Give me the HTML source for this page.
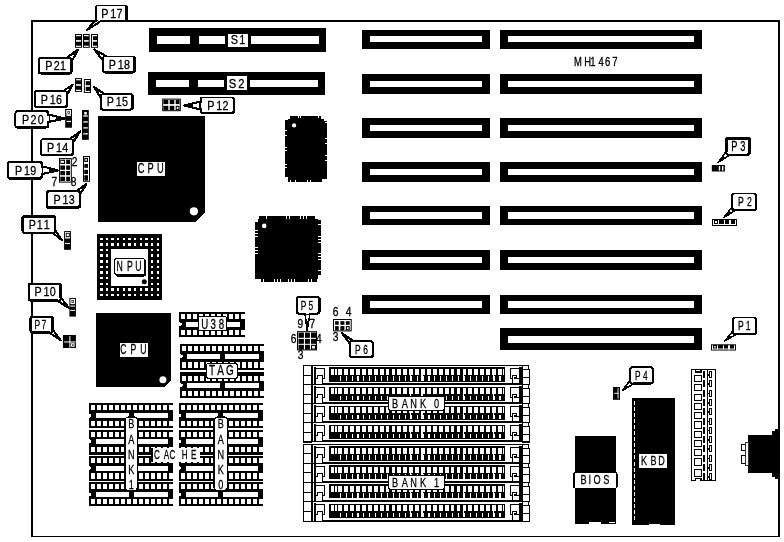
<!DOCTYPE html>
<html><head><meta charset="utf-8"><title>MH1467</title>
<style>
html,body{margin:0;padding:0;background:#fff;}
svg{display:block;will-change:transform;transform:translateZ(0);}
text{font-family:"Liberation Sans",sans-serif;fill:#000;stroke:#000;stroke-width:0.3px;}
</style></head><body>
<svg width="784" height="542" viewBox="0 0 784 542" shape-rendering="crispEdges">
<rect x="0" y="0" width="784" height="542" fill="#fff"/>
<rect x="31" y="20" width="749" height="2" fill="#000" />
<rect x="31" y="20" width="2" height="517" fill="#000" />
<rect x="778" y="20" width="2" height="517" fill="#000" />
<rect x="31" y="536" width="749" height="1" fill="#000" />
<rect x="362" y="29.5" width="128" height="19.5" fill="#000" />
<rect x="369.7" y="36" width="112.3" height="6" fill="#fff" />
<rect x="500" y="29.5" width="202" height="19.5" fill="#000" />
<rect x="507.7" y="36" width="186.3" height="6" fill="#fff" />
<rect x="362" y="74" width="128" height="19.5" fill="#000" />
<rect x="369.7" y="80.5" width="112.3" height="6.5" fill="#fff" />
<rect x="500" y="74" width="202" height="19.5" fill="#000" />
<rect x="507.7" y="80.5" width="186.3" height="6.5" fill="#fff" />
<rect x="362" y="118" width="128" height="20" fill="#000" />
<rect x="369.7" y="124.5" width="112.3" height="6.5" fill="#fff" />
<rect x="500" y="118" width="202" height="20" fill="#000" />
<rect x="507.7" y="124.5" width="186.3" height="6.5" fill="#fff" />
<rect x="362" y="162" width="128" height="19.5" fill="#000" />
<rect x="369.7" y="168.5" width="112.3" height="6.5" fill="#fff" />
<rect x="500" y="162" width="202" height="19.5" fill="#000" />
<rect x="507.7" y="168.5" width="186.3" height="6.5" fill="#fff" />
<rect x="362" y="205.5" width="128" height="19" fill="#000" />
<rect x="369.7" y="212" width="112.3" height="6.5" fill="#fff" />
<rect x="500" y="205.5" width="202" height="19" fill="#000" />
<rect x="507.7" y="212" width="186.3" height="6.5" fill="#fff" />
<rect x="362" y="249.5" width="128" height="20" fill="#000" />
<rect x="369.7" y="256.5" width="112.3" height="6.5" fill="#fff" />
<rect x="500" y="249.5" width="202" height="20" fill="#000" />
<rect x="507.7" y="256.5" width="186.3" height="6.5" fill="#fff" />
<rect x="362" y="295" width="128" height="19" fill="#000" />
<rect x="369.7" y="300.5" width="112.3" height="7" fill="#fff" />
<rect x="500" y="295" width="202" height="19" fill="#000" />
<rect x="507.7" y="300.5" width="186.3" height="7" fill="#fff" />
<rect x="500" y="328" width="202" height="21.5" fill="#000" />
<rect x="507.7" y="336" width="186.3" height="7" fill="#fff" />
<rect x="149" y="28" width="177" height="24" fill="#000" />
<rect x="157" y="36" width="33" height="8" fill="#fff" />
<rect x="198.5" y="36" width="26.5" height="8" fill="#fff" />
<rect x="251" y="36" width="68" height="8" fill="#fff" />
<rect x="228" y="33.5" width="20" height="13" fill="#fff" />
<text transform="translate(234.3,43.9) scale(0.82,1)" text-anchor="middle" font-size="13.3">S</text>
<text transform="translate(242.2,43.9) scale(0.82,1)" text-anchor="middle" font-size="13.3">1</text>
<rect x="148" y="72.3" width="176.7" height="22.3" fill="#000" />
<rect x="155.8" y="80" width="33.6" height="6.8" fill="#fff" />
<rect x="197.8" y="80" width="26.3" height="6.8" fill="#fff" />
<rect x="249.8" y="80" width="68.4" height="6.8" fill="#fff" />
<rect x="226.9" y="76" width="19.8" height="13.9" fill="#fff" />
<text transform="translate(232.6,87.8) scale(0.92,1)" text-anchor="middle" font-size="12.2">S</text>
<text transform="translate(241.3,87.8) scale(0.92,1)" text-anchor="middle" font-size="12.2">2</text>
<text transform="translate(577.85,65.7) scale(0.78,1)" text-anchor="middle" font-size="12.1">M</text>
<text transform="translate(587.6,65.7) scale(0.78,1)" text-anchor="middle" font-size="12.1">H</text>
<text transform="translate(592.9,65.7) scale(0.78,1)" text-anchor="middle" font-size="12.1">1</text>
<text transform="translate(601.2,65.7) scale(0.78,1)" text-anchor="middle" font-size="12.1">4</text>
<text transform="translate(607.5,65.7) scale(0.78,1)" text-anchor="middle" font-size="12.1">6</text>
<text transform="translate(614.8,65.7) scale(0.78,1)" text-anchor="middle" font-size="12.1">7</text>
<polygon points="98,116 205,116 205,212.6 195.7,221.8 98,221.8" fill="#000"/>
<circle cx="193.9" cy="211.3" r="4.1" fill="#fff" shape-rendering="geometricPrecision"/>
<rect x="137" y="162" width="28" height="14" fill="#fff" />
<text transform="translate(141.2,172.8) scale(0.66,1)" text-anchor="middle" font-size="14.1">C</text>
<text transform="translate(150.6,172.8) scale(0.66,1)" text-anchor="middle" font-size="14.1">P</text>
<text transform="translate(160.3,172.8) scale(0.66,1)" text-anchor="middle" font-size="14.1">U</text>
<polygon points="96,313 171,313 171,380.3 164.7,386.8 96,386.8" fill="#000"/>
<circle cx="162.9" cy="379.8" r="3.5" fill="#fff" shape-rendering="geometricPrecision"/>
<rect x="120" y="342.8" width="28" height="14" fill="#fff" />
<text transform="translate(123.4,354) scale(0.62,1)" text-anchor="middle" font-size="14">C</text>
<text transform="translate(133.5,354) scale(0.62,1)" text-anchor="middle" font-size="14">P</text>
<text transform="translate(143.3,354) scale(0.62,1)" text-anchor="middle" font-size="14">U</text>
<rect x="287.6" y="118.6" width="36.8" height="60.8" fill="#000" />
<rect x="290" y="116" width="31" height="2.6" fill="#000" />
<rect x="288" y="179.4" width="34" height="2.6" fill="#000" />
<rect x="285" y="119.5" width="2.6" height="57" fill="#000" />
<rect x="324.4" y="121" width="2.6" height="57.5" fill="#000" />
<rect x="297.8" y="116" width="0.8" height="2.3" fill="#fff" />
<rect x="299.8" y="116" width="0.8" height="2.3" fill="#fff" />
<rect x="301.6" y="116" width="0.8" height="2.3" fill="#fff" />
<rect x="303.5" y="116" width="0.8" height="2.3" fill="#fff" />
<rect x="318.3" y="116" width="0.8" height="2.3" fill="#fff" />
<rect x="290.2" y="179.7" width="0.8" height="2.3" fill="#fff" />
<rect x="292.5" y="179.7" width="0.8" height="2.3" fill="#fff" />
<rect x="295" y="179.7" width="0.8" height="2.3" fill="#fff" />
<rect x="307" y="179.7" width="0.8" height="2.3" fill="#fff" />
<rect x="310" y="179.7" width="0.8" height="2.3" fill="#fff" />
<rect x="312.5" y="179.7" width="0.8" height="2.3" fill="#fff" />
<rect x="285" y="130" width="2.3" height="0.8" fill="#fff" />
<rect x="285" y="132.5" width="2.3" height="0.8" fill="#fff" />
<rect x="285" y="135" width="2.3" height="0.8" fill="#fff" />
<rect x="285" y="146.8" width="2.3" height="0.8" fill="#fff" />
<rect x="285" y="150" width="2.3" height="0.8" fill="#fff" />
<rect x="285" y="164" width="2.3" height="0.8" fill="#fff" />
<rect x="285" y="167" width="2.3" height="0.8" fill="#fff" />
<rect x="285" y="169.5" width="2.3" height="0.8" fill="#fff" />
<rect x="324.7" y="122" width="2.3" height="0.8" fill="#fff" />
<rect x="324.7" y="124.5" width="2.3" height="0.8" fill="#fff" />
<rect x="324.7" y="126.5" width="2.3" height="0.8" fill="#fff" />
<rect x="324.7" y="138" width="2.3" height="0.8" fill="#fff" />
<rect x="324.7" y="140.5" width="2.3" height="0.8" fill="#fff" />
<rect x="324.7" y="143" width="2.3" height="0.8" fill="#fff" />
<rect x="324.7" y="155" width="2.3" height="0.8" fill="#fff" />
<rect x="324.7" y="157.5" width="2.3" height="0.8" fill="#fff" />
<rect x="324.7" y="160" width="2.3" height="0.8" fill="#fff" />
<rect x="324.7" y="175.5" width="2.3" height="0.8" fill="#fff" />
<circle cx="294.1" cy="125.4" r="2.1" fill="#fff" shape-rendering="geometricPrecision"/>
<rect x="258.2" y="219.2" width="59.6" height="59.6" fill="#000" />
<rect x="259" y="216" width="56" height="3.2" fill="#000" />
<rect x="261" y="278.8" width="56" height="3.2" fill="#000" />
<rect x="255" y="222" width="3.2" height="56.5" fill="#000" />
<rect x="317.8" y="220" width="3.2" height="56" fill="#000" />
<rect x="266" y="216" width="0.8" height="2.9" fill="#fff" />
<rect x="268.5" y="216" width="0.8" height="2.9" fill="#fff" />
<rect x="271.5" y="216" width="0.8" height="2.9" fill="#fff" />
<rect x="274.5" y="216" width="0.8" height="2.9" fill="#fff" />
<rect x="286.3" y="216" width="0.8" height="2.9" fill="#fff" />
<rect x="289" y="216" width="0.8" height="2.9" fill="#fff" />
<rect x="300.2" y="216" width="0.8" height="2.9" fill="#fff" />
<rect x="303" y="216" width="0.8" height="2.9" fill="#fff" />
<rect x="306" y="216" width="0.8" height="2.9" fill="#fff" />
<rect x="263.2" y="279.1" width="0.8" height="2.9" fill="#fff" />
<rect x="273.8" y="279.1" width="0.8" height="2.9" fill="#fff" />
<rect x="277" y="279.1" width="0.8" height="2.9" fill="#fff" />
<rect x="280" y="279.1" width="0.8" height="2.9" fill="#fff" />
<rect x="287.8" y="279.1" width="0.8" height="2.9" fill="#fff" />
<rect x="291" y="279.1" width="0.8" height="2.9" fill="#fff" />
<rect x="294" y="279.1" width="0.8" height="2.9" fill="#fff" />
<rect x="304.5" y="279.1" width="0.8" height="2.9" fill="#fff" />
<rect x="308" y="279.1" width="0.8" height="2.9" fill="#fff" />
<rect x="311.2" y="279.1" width="0.8" height="2.9" fill="#fff" />
<rect x="255" y="230" width="2.9" height="0.8" fill="#fff" />
<rect x="255" y="233" width="2.9" height="0.8" fill="#fff" />
<rect x="255" y="236" width="2.9" height="0.8" fill="#fff" />
<rect x="255" y="247" width="2.9" height="0.8" fill="#fff" />
<rect x="255" y="250" width="2.9" height="0.8" fill="#fff" />
<rect x="255" y="253" width="2.9" height="0.8" fill="#fff" />
<rect x="255" y="264.5" width="2.9" height="0.8" fill="#fff" />
<rect x="255" y="267.5" width="2.9" height="0.8" fill="#fff" />
<rect x="255" y="270.5" width="2.9" height="0.8" fill="#fff" />
<rect x="255" y="273.5" width="2.9" height="0.8" fill="#fff" />
<rect x="318.1" y="221.5" width="2.9" height="0.8" fill="#fff" />
<rect x="318.1" y="224" width="2.9" height="0.8" fill="#fff" />
<rect x="318.1" y="236" width="2.9" height="0.8" fill="#fff" />
<rect x="318.1" y="239" width="2.9" height="0.8" fill="#fff" />
<rect x="318.1" y="242" width="2.9" height="0.8" fill="#fff" />
<rect x="318.1" y="253" width="2.9" height="0.8" fill="#fff" />
<rect x="318.1" y="256" width="2.9" height="0.8" fill="#fff" />
<rect x="318.1" y="259" width="2.9" height="0.8" fill="#fff" />
<rect x="318.1" y="270" width="2.9" height="0.8" fill="#fff" />
<rect x="318.1" y="272.5" width="2.9" height="0.8" fill="#fff" />
<rect x="318.1" y="275" width="2.9" height="0.8" fill="#fff" />
<circle cx="264.2" cy="225.9" r="2.3" fill="#fff" shape-rendering="geometricPrecision"/>
<rect x="97" y="234" width="65" height="65.6" fill="#000" />
<rect x="100.1" y="237.5" width="2.4" height="2.4" fill="#fff" />
<rect x="100.1" y="243.15" width="2.4" height="2.4" fill="#fff" />
<rect x="100.1" y="248.8" width="2.4" height="2.4" fill="#fff" />
<rect x="100.1" y="254.45" width="2.4" height="2.4" fill="#fff" />
<rect x="100.1" y="260.1" width="2.4" height="2.4" fill="#fff" />
<rect x="100.1" y="265.75" width="2.4" height="2.4" fill="#fff" />
<rect x="100.1" y="271.4" width="2.4" height="2.4" fill="#fff" />
<rect x="100.1" y="277.05" width="2.4" height="2.4" fill="#fff" />
<rect x="100.1" y="282.7" width="2.4" height="2.4" fill="#fff" />
<rect x="100.1" y="288.35" width="2.4" height="2.4" fill="#fff" />
<rect x="100.1" y="294" width="2.4" height="2.4" fill="#fff" />
<rect x="105.75" y="237.5" width="2.4" height="2.4" fill="#fff" />
<rect x="105.75" y="243.15" width="2.4" height="2.4" fill="#fff" />
<rect x="105.75" y="248.8" width="2.4" height="2.4" fill="#fff" />
<rect x="105.75" y="254.45" width="2.4" height="2.4" fill="#fff" />
<rect x="105.75" y="260.1" width="2.4" height="2.4" fill="#fff" />
<rect x="105.75" y="265.75" width="2.4" height="2.4" fill="#fff" />
<rect x="105.75" y="271.4" width="2.4" height="2.4" fill="#fff" />
<rect x="105.75" y="277.05" width="2.4" height="2.4" fill="#fff" />
<rect x="105.75" y="282.7" width="2.4" height="2.4" fill="#fff" />
<rect x="105.75" y="288.35" width="2.4" height="2.4" fill="#fff" />
<rect x="105.75" y="294" width="2.4" height="2.4" fill="#fff" />
<rect x="111.4" y="237.5" width="2.4" height="2.4" fill="#fff" />
<rect x="111.4" y="243.15" width="2.4" height="2.4" fill="#fff" />
<rect x="111.4" y="248.8" width="2.4" height="2.4" fill="#fff" />
<rect x="111.4" y="254.45" width="2.4" height="2.4" fill="#fff" />
<rect x="111.4" y="260.1" width="2.4" height="2.4" fill="#fff" />
<rect x="111.4" y="265.75" width="2.4" height="2.4" fill="#fff" />
<rect x="111.4" y="271.4" width="2.4" height="2.4" fill="#fff" />
<rect x="111.4" y="277.05" width="2.4" height="2.4" fill="#fff" />
<rect x="111.4" y="282.7" width="2.4" height="2.4" fill="#fff" />
<rect x="111.4" y="288.35" width="2.4" height="2.4" fill="#fff" />
<rect x="111.4" y="294" width="2.4" height="2.4" fill="#fff" />
<rect x="117.05" y="237.5" width="2.4" height="2.4" fill="#fff" />
<rect x="117.05" y="243.15" width="2.4" height="2.4" fill="#fff" />
<rect x="117.05" y="248.8" width="2.4" height="2.4" fill="#fff" />
<rect x="117.05" y="254.45" width="2.4" height="2.4" fill="#fff" />
<rect x="117.05" y="260.1" width="2.4" height="2.4" fill="#fff" />
<rect x="117.05" y="265.75" width="2.4" height="2.4" fill="#fff" />
<rect x="117.05" y="271.4" width="2.4" height="2.4" fill="#fff" />
<rect x="117.05" y="277.05" width="2.4" height="2.4" fill="#fff" />
<rect x="117.05" y="282.7" width="2.4" height="2.4" fill="#fff" />
<rect x="117.05" y="288.35" width="2.4" height="2.4" fill="#fff" />
<rect x="117.05" y="294" width="2.4" height="2.4" fill="#fff" />
<rect x="122.7" y="237.5" width="2.4" height="2.4" fill="#fff" />
<rect x="122.7" y="243.15" width="2.4" height="2.4" fill="#fff" />
<rect x="122.7" y="248.8" width="2.4" height="2.4" fill="#fff" />
<rect x="122.7" y="254.45" width="2.4" height="2.4" fill="#fff" />
<rect x="122.7" y="260.1" width="2.4" height="2.4" fill="#fff" />
<rect x="122.7" y="265.75" width="2.4" height="2.4" fill="#fff" />
<rect x="122.7" y="271.4" width="2.4" height="2.4" fill="#fff" />
<rect x="122.7" y="277.05" width="2.4" height="2.4" fill="#fff" />
<rect x="122.7" y="282.7" width="2.4" height="2.4" fill="#fff" />
<rect x="122.7" y="288.35" width="2.4" height="2.4" fill="#fff" />
<rect x="122.7" y="294" width="2.4" height="2.4" fill="#fff" />
<rect x="128.35" y="237.5" width="2.4" height="2.4" fill="#fff" />
<rect x="128.35" y="243.15" width="2.4" height="2.4" fill="#fff" />
<rect x="128.35" y="248.8" width="2.4" height="2.4" fill="#fff" />
<rect x="128.35" y="254.45" width="2.4" height="2.4" fill="#fff" />
<rect x="128.35" y="260.1" width="2.4" height="2.4" fill="#fff" />
<rect x="128.35" y="265.75" width="2.4" height="2.4" fill="#fff" />
<rect x="128.35" y="271.4" width="2.4" height="2.4" fill="#fff" />
<rect x="128.35" y="277.05" width="2.4" height="2.4" fill="#fff" />
<rect x="128.35" y="282.7" width="2.4" height="2.4" fill="#fff" />
<rect x="128.35" y="288.35" width="2.4" height="2.4" fill="#fff" />
<rect x="128.35" y="294" width="2.4" height="2.4" fill="#fff" />
<rect x="134" y="237.5" width="2.4" height="2.4" fill="#fff" />
<rect x="134" y="243.15" width="2.4" height="2.4" fill="#fff" />
<rect x="134" y="248.8" width="2.4" height="2.4" fill="#fff" />
<rect x="134" y="254.45" width="2.4" height="2.4" fill="#fff" />
<rect x="134" y="260.1" width="2.4" height="2.4" fill="#fff" />
<rect x="134" y="265.75" width="2.4" height="2.4" fill="#fff" />
<rect x="134" y="271.4" width="2.4" height="2.4" fill="#fff" />
<rect x="134" y="277.05" width="2.4" height="2.4" fill="#fff" />
<rect x="134" y="282.7" width="2.4" height="2.4" fill="#fff" />
<rect x="134" y="288.35" width="2.4" height="2.4" fill="#fff" />
<rect x="134" y="294" width="2.4" height="2.4" fill="#fff" />
<rect x="139.65" y="237.5" width="2.4" height="2.4" fill="#fff" />
<rect x="139.65" y="243.15" width="2.4" height="2.4" fill="#fff" />
<rect x="139.65" y="248.8" width="2.4" height="2.4" fill="#fff" />
<rect x="139.65" y="254.45" width="2.4" height="2.4" fill="#fff" />
<rect x="139.65" y="260.1" width="2.4" height="2.4" fill="#fff" />
<rect x="139.65" y="265.75" width="2.4" height="2.4" fill="#fff" />
<rect x="139.65" y="271.4" width="2.4" height="2.4" fill="#fff" />
<rect x="139.65" y="277.05" width="2.4" height="2.4" fill="#fff" />
<rect x="139.65" y="282.7" width="2.4" height="2.4" fill="#fff" />
<rect x="139.65" y="288.35" width="2.4" height="2.4" fill="#fff" />
<rect x="139.65" y="294" width="2.4" height="2.4" fill="#fff" />
<rect x="145.3" y="237.5" width="2.4" height="2.4" fill="#fff" />
<rect x="145.3" y="243.15" width="2.4" height="2.4" fill="#fff" />
<rect x="145.3" y="248.8" width="2.4" height="2.4" fill="#fff" />
<rect x="145.3" y="254.45" width="2.4" height="2.4" fill="#fff" />
<rect x="145.3" y="260.1" width="2.4" height="2.4" fill="#fff" />
<rect x="145.3" y="265.75" width="2.4" height="2.4" fill="#fff" />
<rect x="145.3" y="271.4" width="2.4" height="2.4" fill="#fff" />
<rect x="145.3" y="277.05" width="2.4" height="2.4" fill="#fff" />
<rect x="145.3" y="282.7" width="2.4" height="2.4" fill="#fff" />
<rect x="145.3" y="288.35" width="2.4" height="2.4" fill="#fff" />
<rect x="145.3" y="294" width="2.4" height="2.4" fill="#fff" />
<rect x="150.95" y="237.5" width="2.4" height="2.4" fill="#fff" />
<rect x="150.95" y="243.15" width="2.4" height="2.4" fill="#fff" />
<rect x="150.95" y="248.8" width="2.4" height="2.4" fill="#fff" />
<rect x="150.95" y="254.45" width="2.4" height="2.4" fill="#fff" />
<rect x="150.95" y="260.1" width="2.4" height="2.4" fill="#fff" />
<rect x="150.95" y="265.75" width="2.4" height="2.4" fill="#fff" />
<rect x="150.95" y="271.4" width="2.4" height="2.4" fill="#fff" />
<rect x="150.95" y="277.05" width="2.4" height="2.4" fill="#fff" />
<rect x="150.95" y="282.7" width="2.4" height="2.4" fill="#fff" />
<rect x="150.95" y="288.35" width="2.4" height="2.4" fill="#fff" />
<rect x="150.95" y="294" width="2.4" height="2.4" fill="#fff" />
<rect x="156.6" y="237.5" width="2.4" height="2.4" fill="#fff" />
<rect x="156.6" y="243.15" width="2.4" height="2.4" fill="#fff" />
<rect x="156.6" y="248.8" width="2.4" height="2.4" fill="#fff" />
<rect x="156.6" y="254.45" width="2.4" height="2.4" fill="#fff" />
<rect x="156.6" y="260.1" width="2.4" height="2.4" fill="#fff" />
<rect x="156.6" y="265.75" width="2.4" height="2.4" fill="#fff" />
<rect x="156.6" y="271.4" width="2.4" height="2.4" fill="#fff" />
<rect x="156.6" y="277.05" width="2.4" height="2.4" fill="#fff" />
<rect x="156.6" y="282.7" width="2.4" height="2.4" fill="#fff" />
<rect x="156.6" y="288.35" width="2.4" height="2.4" fill="#fff" />
<rect x="156.6" y="294" width="2.4" height="2.4" fill="#fff" />
<rect x="111" y="249" width="37.3" height="37" fill="#fff" />
<circle cx="144.3" cy="281.7" r="2.5" fill="#000" shape-rendering="geometricPrecision"/>
<rect x="115.2" y="259.5" width="30.8" height="17" fill="#000" rx="2"/>
<rect x="114.7" y="258.5" width="29.8" height="16" rx="2" fill="#fff" stroke="#000" stroke-width="1"/>
<text transform="translate(119.75,270.7) scale(0.62,1)" text-anchor="middle" font-size="14">N</text>
<text transform="translate(129.9,270.7) scale(0.62,1)" text-anchor="middle" font-size="14">P</text>
<text transform="translate(138.4,270.7) scale(0.62,1)" text-anchor="middle" font-size="14">U</text>
<rect x="89" y="403" width="84.2" height="24.6" fill="#000" />
<rect x="91" y="405" width="3.9" height="5" fill="#fff" />
<rect x="91" y="421" width="3.9" height="5" fill="#fff" />
<rect x="97" y="405" width="3.9" height="5" fill="#fff" />
<rect x="97" y="421" width="3.9" height="5" fill="#fff" />
<rect x="103" y="405" width="3.9" height="5" fill="#fff" />
<rect x="103" y="421" width="3.9" height="5" fill="#fff" />
<rect x="109" y="405" width="3.9" height="5" fill="#fff" />
<rect x="109" y="421" width="3.9" height="5" fill="#fff" />
<rect x="115" y="405" width="3.9" height="5" fill="#fff" />
<rect x="115" y="421" width="3.9" height="5" fill="#fff" />
<rect x="121" y="405" width="3.9" height="5" fill="#fff" />
<rect x="121" y="421" width="3.9" height="5" fill="#fff" />
<rect x="127" y="405" width="3.9" height="5" fill="#fff" />
<rect x="127" y="421" width="3.9" height="5" fill="#fff" />
<rect x="133" y="405" width="3.9" height="5" fill="#fff" />
<rect x="133" y="421" width="3.9" height="5" fill="#fff" />
<rect x="139" y="405" width="3.9" height="5" fill="#fff" />
<rect x="139" y="421" width="3.9" height="5" fill="#fff" />
<rect x="145" y="405" width="3.9" height="5" fill="#fff" />
<rect x="145" y="421" width="3.9" height="5" fill="#fff" />
<rect x="151" y="405" width="3.9" height="5" fill="#fff" />
<rect x="151" y="421" width="3.9" height="5" fill="#fff" />
<rect x="157" y="405" width="3.9" height="5" fill="#fff" />
<rect x="157" y="421" width="3.9" height="5" fill="#fff" />
<rect x="163" y="405" width="3.9" height="5" fill="#fff" />
<rect x="163" y="421" width="3.9" height="5" fill="#fff" />
<rect x="169" y="405" width="3.9" height="5" fill="#fff" />
<rect x="169" y="421" width="3.9" height="5" fill="#fff" />
<rect x="96" y="413.3" width="32.6" height="4.7" fill="#fff" />
<rect x="133.6" y="413.3" width="34.6" height="4.7" fill="#fff" />
<polygon points="89,413.45 91.4,414.65 91.4,416.65 89,417.85" fill="#fff"/>
<rect x="178.7" y="403" width="84.4" height="24.6" fill="#000" />
<rect x="180.7" y="405" width="3.9" height="5" fill="#fff" />
<rect x="180.7" y="421" width="3.9" height="5" fill="#fff" />
<rect x="186.7" y="405" width="3.9" height="5" fill="#fff" />
<rect x="186.7" y="421" width="3.9" height="5" fill="#fff" />
<rect x="192.7" y="405" width="3.9" height="5" fill="#fff" />
<rect x="192.7" y="421" width="3.9" height="5" fill="#fff" />
<rect x="198.7" y="405" width="3.9" height="5" fill="#fff" />
<rect x="198.7" y="421" width="3.9" height="5" fill="#fff" />
<rect x="204.7" y="405" width="3.9" height="5" fill="#fff" />
<rect x="204.7" y="421" width="3.9" height="5" fill="#fff" />
<rect x="210.7" y="405" width="3.9" height="5" fill="#fff" />
<rect x="210.7" y="421" width="3.9" height="5" fill="#fff" />
<rect x="216.7" y="405" width="3.9" height="5" fill="#fff" />
<rect x="216.7" y="421" width="3.9" height="5" fill="#fff" />
<rect x="222.7" y="405" width="3.9" height="5" fill="#fff" />
<rect x="222.7" y="421" width="3.9" height="5" fill="#fff" />
<rect x="228.7" y="405" width="3.9" height="5" fill="#fff" />
<rect x="228.7" y="421" width="3.9" height="5" fill="#fff" />
<rect x="234.7" y="405" width="3.9" height="5" fill="#fff" />
<rect x="234.7" y="421" width="3.9" height="5" fill="#fff" />
<rect x="240.7" y="405" width="3.9" height="5" fill="#fff" />
<rect x="240.7" y="421" width="3.9" height="5" fill="#fff" />
<rect x="246.7" y="405" width="3.9" height="5" fill="#fff" />
<rect x="246.7" y="421" width="3.9" height="5" fill="#fff" />
<rect x="252.7" y="405" width="3.9" height="5" fill="#fff" />
<rect x="252.7" y="421" width="3.9" height="5" fill="#fff" />
<rect x="258.7" y="405" width="3.9" height="5" fill="#fff" />
<rect x="258.7" y="421" width="3.9" height="5" fill="#fff" />
<rect x="185.7" y="413.3" width="32.7" height="4.7" fill="#fff" />
<rect x="223.4" y="413.3" width="34.7" height="4.7" fill="#fff" />
<polygon points="178.7,413.45 181.1,414.65 181.1,416.65 178.7,417.85" fill="#fff"/>
<rect x="89" y="429.6" width="84.2" height="25.4" fill="#000" />
<rect x="91" y="431.9" width="3.9" height="5" fill="#fff" />
<rect x="91" y="446.8" width="3.9" height="5" fill="#fff" />
<rect x="97" y="431.9" width="3.9" height="5" fill="#fff" />
<rect x="97" y="446.8" width="3.9" height="5" fill="#fff" />
<rect x="103" y="431.9" width="3.9" height="5" fill="#fff" />
<rect x="103" y="446.8" width="3.9" height="5" fill="#fff" />
<rect x="109" y="431.9" width="3.9" height="5" fill="#fff" />
<rect x="109" y="446.8" width="3.9" height="5" fill="#fff" />
<rect x="115" y="431.9" width="3.9" height="5" fill="#fff" />
<rect x="115" y="446.8" width="3.9" height="5" fill="#fff" />
<rect x="121" y="431.9" width="3.9" height="5" fill="#fff" />
<rect x="121" y="446.8" width="3.9" height="5" fill="#fff" />
<rect x="127" y="431.9" width="3.9" height="5" fill="#fff" />
<rect x="127" y="446.8" width="3.9" height="5" fill="#fff" />
<rect x="133" y="431.9" width="3.9" height="5" fill="#fff" />
<rect x="133" y="446.8" width="3.9" height="5" fill="#fff" />
<rect x="139" y="431.9" width="3.9" height="5" fill="#fff" />
<rect x="139" y="446.8" width="3.9" height="5" fill="#fff" />
<rect x="145" y="431.9" width="3.9" height="5" fill="#fff" />
<rect x="145" y="446.8" width="3.9" height="5" fill="#fff" />
<rect x="151" y="431.9" width="3.9" height="5" fill="#fff" />
<rect x="151" y="446.8" width="3.9" height="5" fill="#fff" />
<rect x="157" y="431.9" width="3.9" height="5" fill="#fff" />
<rect x="157" y="446.8" width="3.9" height="5" fill="#fff" />
<rect x="163" y="431.9" width="3.9" height="5" fill="#fff" />
<rect x="163" y="446.8" width="3.9" height="5" fill="#fff" />
<rect x="169" y="431.9" width="3.9" height="5" fill="#fff" />
<rect x="169" y="446.8" width="3.9" height="5" fill="#fff" />
<rect x="96" y="439" width="32.6" height="4.8" fill="#fff" />
<rect x="133.6" y="439" width="34.6" height="4.8" fill="#fff" />
<polygon points="89,439.2 91.4,440.4 91.4,442.4 89,443.6" fill="#fff"/>
<rect x="178.7" y="429.6" width="84.4" height="25.4" fill="#000" />
<rect x="180.7" y="431.9" width="3.9" height="5" fill="#fff" />
<rect x="180.7" y="446.8" width="3.9" height="5" fill="#fff" />
<rect x="186.7" y="431.9" width="3.9" height="5" fill="#fff" />
<rect x="186.7" y="446.8" width="3.9" height="5" fill="#fff" />
<rect x="192.7" y="431.9" width="3.9" height="5" fill="#fff" />
<rect x="192.7" y="446.8" width="3.9" height="5" fill="#fff" />
<rect x="198.7" y="431.9" width="3.9" height="5" fill="#fff" />
<rect x="198.7" y="446.8" width="3.9" height="5" fill="#fff" />
<rect x="204.7" y="431.9" width="3.9" height="5" fill="#fff" />
<rect x="204.7" y="446.8" width="3.9" height="5" fill="#fff" />
<rect x="210.7" y="431.9" width="3.9" height="5" fill="#fff" />
<rect x="210.7" y="446.8" width="3.9" height="5" fill="#fff" />
<rect x="216.7" y="431.9" width="3.9" height="5" fill="#fff" />
<rect x="216.7" y="446.8" width="3.9" height="5" fill="#fff" />
<rect x="222.7" y="431.9" width="3.9" height="5" fill="#fff" />
<rect x="222.7" y="446.8" width="3.9" height="5" fill="#fff" />
<rect x="228.7" y="431.9" width="3.9" height="5" fill="#fff" />
<rect x="228.7" y="446.8" width="3.9" height="5" fill="#fff" />
<rect x="234.7" y="431.9" width="3.9" height="5" fill="#fff" />
<rect x="234.7" y="446.8" width="3.9" height="5" fill="#fff" />
<rect x="240.7" y="431.9" width="3.9" height="5" fill="#fff" />
<rect x="240.7" y="446.8" width="3.9" height="5" fill="#fff" />
<rect x="246.7" y="431.9" width="3.9" height="5" fill="#fff" />
<rect x="246.7" y="446.8" width="3.9" height="5" fill="#fff" />
<rect x="252.7" y="431.9" width="3.9" height="5" fill="#fff" />
<rect x="252.7" y="446.8" width="3.9" height="5" fill="#fff" />
<rect x="258.7" y="431.9" width="3.9" height="5" fill="#fff" />
<rect x="258.7" y="446.8" width="3.9" height="5" fill="#fff" />
<rect x="185.7" y="439" width="32.7" height="4.8" fill="#fff" />
<rect x="223.4" y="439" width="34.7" height="4.8" fill="#fff" />
<polygon points="178.7,439.2 181.1,440.4 181.1,442.4 178.7,443.6" fill="#fff"/>
<rect x="89" y="456.3" width="84.2" height="24.7" fill="#000" />
<rect x="91" y="457.6" width="3.9" height="5.2" fill="#fff" />
<rect x="91" y="473.1" width="3.9" height="5.4" fill="#fff" />
<rect x="97" y="457.6" width="3.9" height="5.2" fill="#fff" />
<rect x="97" y="473.1" width="3.9" height="5.4" fill="#fff" />
<rect x="103" y="457.6" width="3.9" height="5.2" fill="#fff" />
<rect x="103" y="473.1" width="3.9" height="5.4" fill="#fff" />
<rect x="109" y="457.6" width="3.9" height="5.2" fill="#fff" />
<rect x="109" y="473.1" width="3.9" height="5.4" fill="#fff" />
<rect x="115" y="457.6" width="3.9" height="5.2" fill="#fff" />
<rect x="115" y="473.1" width="3.9" height="5.4" fill="#fff" />
<rect x="121" y="457.6" width="3.9" height="5.2" fill="#fff" />
<rect x="121" y="473.1" width="3.9" height="5.4" fill="#fff" />
<rect x="127" y="457.6" width="3.9" height="5.2" fill="#fff" />
<rect x="127" y="473.1" width="3.9" height="5.4" fill="#fff" />
<rect x="133" y="457.6" width="3.9" height="5.2" fill="#fff" />
<rect x="133" y="473.1" width="3.9" height="5.4" fill="#fff" />
<rect x="139" y="457.6" width="3.9" height="5.2" fill="#fff" />
<rect x="139" y="473.1" width="3.9" height="5.4" fill="#fff" />
<rect x="145" y="457.6" width="3.9" height="5.2" fill="#fff" />
<rect x="145" y="473.1" width="3.9" height="5.4" fill="#fff" />
<rect x="151" y="457.6" width="3.9" height="5.2" fill="#fff" />
<rect x="151" y="473.1" width="3.9" height="5.4" fill="#fff" />
<rect x="157" y="457.6" width="3.9" height="5.2" fill="#fff" />
<rect x="157" y="473.1" width="3.9" height="5.4" fill="#fff" />
<rect x="163" y="457.6" width="3.9" height="5.2" fill="#fff" />
<rect x="163" y="473.1" width="3.9" height="5.4" fill="#fff" />
<rect x="169" y="457.6" width="3.9" height="5.2" fill="#fff" />
<rect x="169" y="473.1" width="3.9" height="5.4" fill="#fff" />
<rect x="96" y="465.5" width="32.6" height="5" fill="#fff" />
<rect x="133.6" y="465.5" width="34.6" height="5" fill="#fff" />
<polygon points="89,465.8 91.4,467 91.4,469 89,470.2" fill="#fff"/>
<rect x="178.7" y="456.3" width="84.4" height="24.7" fill="#000" />
<rect x="180.7" y="457.6" width="3.9" height="5.2" fill="#fff" />
<rect x="180.7" y="473.1" width="3.9" height="5.4" fill="#fff" />
<rect x="186.7" y="457.6" width="3.9" height="5.2" fill="#fff" />
<rect x="186.7" y="473.1" width="3.9" height="5.4" fill="#fff" />
<rect x="192.7" y="457.6" width="3.9" height="5.2" fill="#fff" />
<rect x="192.7" y="473.1" width="3.9" height="5.4" fill="#fff" />
<rect x="198.7" y="457.6" width="3.9" height="5.2" fill="#fff" />
<rect x="198.7" y="473.1" width="3.9" height="5.4" fill="#fff" />
<rect x="204.7" y="457.6" width="3.9" height="5.2" fill="#fff" />
<rect x="204.7" y="473.1" width="3.9" height="5.4" fill="#fff" />
<rect x="210.7" y="457.6" width="3.9" height="5.2" fill="#fff" />
<rect x="210.7" y="473.1" width="3.9" height="5.4" fill="#fff" />
<rect x="216.7" y="457.6" width="3.9" height="5.2" fill="#fff" />
<rect x="216.7" y="473.1" width="3.9" height="5.4" fill="#fff" />
<rect x="222.7" y="457.6" width="3.9" height="5.2" fill="#fff" />
<rect x="222.7" y="473.1" width="3.9" height="5.4" fill="#fff" />
<rect x="228.7" y="457.6" width="3.9" height="5.2" fill="#fff" />
<rect x="228.7" y="473.1" width="3.9" height="5.4" fill="#fff" />
<rect x="234.7" y="457.6" width="3.9" height="5.2" fill="#fff" />
<rect x="234.7" y="473.1" width="3.9" height="5.4" fill="#fff" />
<rect x="240.7" y="457.6" width="3.9" height="5.2" fill="#fff" />
<rect x="240.7" y="473.1" width="3.9" height="5.4" fill="#fff" />
<rect x="246.7" y="457.6" width="3.9" height="5.2" fill="#fff" />
<rect x="246.7" y="473.1" width="3.9" height="5.4" fill="#fff" />
<rect x="252.7" y="457.6" width="3.9" height="5.2" fill="#fff" />
<rect x="252.7" y="473.1" width="3.9" height="5.4" fill="#fff" />
<rect x="258.7" y="457.6" width="3.9" height="5.2" fill="#fff" />
<rect x="258.7" y="473.1" width="3.9" height="5.4" fill="#fff" />
<rect x="185.7" y="465.5" width="32.7" height="5" fill="#fff" />
<rect x="223.4" y="465.5" width="34.7" height="5" fill="#fff" />
<polygon points="178.7,465.8 181.1,467 181.1,469 178.7,470.2" fill="#fff"/>
<rect x="89" y="482" width="84.2" height="23.7" fill="#000" />
<rect x="91" y="483.9" width="3.9" height="5.3" fill="#fff" />
<rect x="91" y="499" width="3.9" height="5" fill="#fff" />
<rect x="97" y="483.9" width="3.9" height="5.3" fill="#fff" />
<rect x="97" y="499" width="3.9" height="5" fill="#fff" />
<rect x="103" y="483.9" width="3.9" height="5.3" fill="#fff" />
<rect x="103" y="499" width="3.9" height="5" fill="#fff" />
<rect x="109" y="483.9" width="3.9" height="5.3" fill="#fff" />
<rect x="109" y="499" width="3.9" height="5" fill="#fff" />
<rect x="115" y="483.9" width="3.9" height="5.3" fill="#fff" />
<rect x="115" y="499" width="3.9" height="5" fill="#fff" />
<rect x="121" y="483.9" width="3.9" height="5.3" fill="#fff" />
<rect x="121" y="499" width="3.9" height="5" fill="#fff" />
<rect x="127" y="483.9" width="3.9" height="5.3" fill="#fff" />
<rect x="127" y="499" width="3.9" height="5" fill="#fff" />
<rect x="133" y="483.9" width="3.9" height="5.3" fill="#fff" />
<rect x="133" y="499" width="3.9" height="5" fill="#fff" />
<rect x="139" y="483.9" width="3.9" height="5.3" fill="#fff" />
<rect x="139" y="499" width="3.9" height="5" fill="#fff" />
<rect x="145" y="483.9" width="3.9" height="5.3" fill="#fff" />
<rect x="145" y="499" width="3.9" height="5" fill="#fff" />
<rect x="151" y="483.9" width="3.9" height="5.3" fill="#fff" />
<rect x="151" y="499" width="3.9" height="5" fill="#fff" />
<rect x="157" y="483.9" width="3.9" height="5.3" fill="#fff" />
<rect x="157" y="499" width="3.9" height="5" fill="#fff" />
<rect x="163" y="483.9" width="3.9" height="5.3" fill="#fff" />
<rect x="163" y="499" width="3.9" height="5" fill="#fff" />
<rect x="169" y="483.9" width="3.9" height="5.3" fill="#fff" />
<rect x="169" y="499" width="3.9" height="5" fill="#fff" />
<rect x="96" y="492.3" width="32.6" height="4.5" fill="#fff" />
<rect x="133.6" y="492.3" width="34.6" height="4.5" fill="#fff" />
<polygon points="89,492.35 91.4,493.55 91.4,495.55 89,496.75" fill="#fff"/>
<rect x="178.7" y="482" width="84.4" height="23.7" fill="#000" />
<rect x="180.7" y="483.9" width="3.9" height="5.3" fill="#fff" />
<rect x="180.7" y="499" width="3.9" height="5" fill="#fff" />
<rect x="186.7" y="483.9" width="3.9" height="5.3" fill="#fff" />
<rect x="186.7" y="499" width="3.9" height="5" fill="#fff" />
<rect x="192.7" y="483.9" width="3.9" height="5.3" fill="#fff" />
<rect x="192.7" y="499" width="3.9" height="5" fill="#fff" />
<rect x="198.7" y="483.9" width="3.9" height="5.3" fill="#fff" />
<rect x="198.7" y="499" width="3.9" height="5" fill="#fff" />
<rect x="204.7" y="483.9" width="3.9" height="5.3" fill="#fff" />
<rect x="204.7" y="499" width="3.9" height="5" fill="#fff" />
<rect x="210.7" y="483.9" width="3.9" height="5.3" fill="#fff" />
<rect x="210.7" y="499" width="3.9" height="5" fill="#fff" />
<rect x="216.7" y="483.9" width="3.9" height="5.3" fill="#fff" />
<rect x="216.7" y="499" width="3.9" height="5" fill="#fff" />
<rect x="222.7" y="483.9" width="3.9" height="5.3" fill="#fff" />
<rect x="222.7" y="499" width="3.9" height="5" fill="#fff" />
<rect x="228.7" y="483.9" width="3.9" height="5.3" fill="#fff" />
<rect x="228.7" y="499" width="3.9" height="5" fill="#fff" />
<rect x="234.7" y="483.9" width="3.9" height="5.3" fill="#fff" />
<rect x="234.7" y="499" width="3.9" height="5" fill="#fff" />
<rect x="240.7" y="483.9" width="3.9" height="5.3" fill="#fff" />
<rect x="240.7" y="499" width="3.9" height="5" fill="#fff" />
<rect x="246.7" y="483.9" width="3.9" height="5.3" fill="#fff" />
<rect x="246.7" y="499" width="3.9" height="5" fill="#fff" />
<rect x="252.7" y="483.9" width="3.9" height="5.3" fill="#fff" />
<rect x="252.7" y="499" width="3.9" height="5" fill="#fff" />
<rect x="258.7" y="483.9" width="3.9" height="5.3" fill="#fff" />
<rect x="258.7" y="499" width="3.9" height="5" fill="#fff" />
<rect x="185.7" y="492.3" width="32.7" height="4.5" fill="#fff" />
<rect x="223.4" y="492.3" width="34.7" height="4.5" fill="#fff" />
<polygon points="178.7,492.35 181.1,493.55 181.1,495.55 178.7,496.75" fill="#fff"/>
<rect x="180.1" y="344.1" width="84.1" height="25.9" fill="#000" />
<rect x="182.1" y="346.1" width="3.9" height="4.9" fill="#fff" />
<rect x="182.1" y="362" width="3.9" height="5.7" fill="#fff" />
<rect x="188.1" y="346.1" width="3.9" height="4.9" fill="#fff" />
<rect x="188.1" y="362" width="3.9" height="5.7" fill="#fff" />
<rect x="194.1" y="346.1" width="3.9" height="4.9" fill="#fff" />
<rect x="194.1" y="362" width="3.9" height="5.7" fill="#fff" />
<rect x="200.1" y="346.1" width="3.9" height="4.9" fill="#fff" />
<rect x="200.1" y="362" width="3.9" height="5.7" fill="#fff" />
<rect x="206.1" y="346.1" width="3.9" height="4.9" fill="#fff" />
<rect x="206.1" y="362" width="3.9" height="5.7" fill="#fff" />
<rect x="212.1" y="346.1" width="3.9" height="4.9" fill="#fff" />
<rect x="212.1" y="362" width="3.9" height="5.7" fill="#fff" />
<rect x="218.1" y="346.1" width="3.9" height="4.9" fill="#fff" />
<rect x="218.1" y="362" width="3.9" height="5.7" fill="#fff" />
<rect x="224.1" y="346.1" width="3.9" height="4.9" fill="#fff" />
<rect x="224.1" y="362" width="3.9" height="5.7" fill="#fff" />
<rect x="230.1" y="346.1" width="3.9" height="4.9" fill="#fff" />
<rect x="230.1" y="362" width="3.9" height="5.7" fill="#fff" />
<rect x="236.1" y="346.1" width="3.9" height="4.9" fill="#fff" />
<rect x="236.1" y="362" width="3.9" height="5.7" fill="#fff" />
<rect x="242.1" y="346.1" width="3.9" height="4.9" fill="#fff" />
<rect x="242.1" y="362" width="3.9" height="5.7" fill="#fff" />
<rect x="248.1" y="346.1" width="3.9" height="4.9" fill="#fff" />
<rect x="248.1" y="362" width="3.9" height="5.7" fill="#fff" />
<rect x="254.1" y="346.1" width="3.9" height="4.9" fill="#fff" />
<rect x="254.1" y="362" width="3.9" height="5.7" fill="#fff" />
<rect x="260.1" y="346.1" width="3.9" height="4.9" fill="#fff" />
<rect x="260.1" y="362" width="3.9" height="5.7" fill="#fff" />
<rect x="187.1" y="354" width="32.55" height="4.8" fill="#fff" />
<rect x="224.65" y="354" width="34.55" height="4.8" fill="#fff" />
<polygon points="180.1,354.2 182.5,355.4 182.5,357.4 180.1,358.6" fill="#fff"/>
<rect x="180.1" y="372.3" width="84.1" height="25.4" fill="#000" />
<rect x="182.1" y="376" width="3.9" height="4.8" fill="#fff" />
<rect x="182.1" y="391.1" width="3.9" height="4.4" fill="#fff" />
<rect x="188.1" y="376" width="3.9" height="4.8" fill="#fff" />
<rect x="188.1" y="391.1" width="3.9" height="4.4" fill="#fff" />
<rect x="194.1" y="376" width="3.9" height="4.8" fill="#fff" />
<rect x="194.1" y="391.1" width="3.9" height="4.4" fill="#fff" />
<rect x="200.1" y="376" width="3.9" height="4.8" fill="#fff" />
<rect x="200.1" y="391.1" width="3.9" height="4.4" fill="#fff" />
<rect x="206.1" y="376" width="3.9" height="4.8" fill="#fff" />
<rect x="206.1" y="391.1" width="3.9" height="4.4" fill="#fff" />
<rect x="212.1" y="376" width="3.9" height="4.8" fill="#fff" />
<rect x="212.1" y="391.1" width="3.9" height="4.4" fill="#fff" />
<rect x="218.1" y="376" width="3.9" height="4.8" fill="#fff" />
<rect x="218.1" y="391.1" width="3.9" height="4.4" fill="#fff" />
<rect x="224.1" y="376" width="3.9" height="4.8" fill="#fff" />
<rect x="224.1" y="391.1" width="3.9" height="4.4" fill="#fff" />
<rect x="230.1" y="376" width="3.9" height="4.8" fill="#fff" />
<rect x="230.1" y="391.1" width="3.9" height="4.4" fill="#fff" />
<rect x="236.1" y="376" width="3.9" height="4.8" fill="#fff" />
<rect x="236.1" y="391.1" width="3.9" height="4.4" fill="#fff" />
<rect x="242.1" y="376" width="3.9" height="4.8" fill="#fff" />
<rect x="242.1" y="391.1" width="3.9" height="4.4" fill="#fff" />
<rect x="248.1" y="376" width="3.9" height="4.8" fill="#fff" />
<rect x="248.1" y="391.1" width="3.9" height="4.4" fill="#fff" />
<rect x="254.1" y="376" width="3.9" height="4.8" fill="#fff" />
<rect x="254.1" y="391.1" width="3.9" height="4.4" fill="#fff" />
<rect x="260.1" y="376" width="3.9" height="4.8" fill="#fff" />
<rect x="260.1" y="391.1" width="3.9" height="4.4" fill="#fff" />
<rect x="187.1" y="383" width="32.55" height="4.8" fill="#fff" />
<rect x="224.65" y="383" width="34.55" height="4.8" fill="#fff" />
<polygon points="180.1,383.2 182.5,384.4 182.5,386.4 180.1,387.6" fill="#fff"/>
<rect x="179.2" y="312.2" width="65.8" height="24.5" fill="#000" />
<rect x="181.2" y="314.1" width="3.9" height="4.9" fill="#fff" />
<rect x="181.2" y="329.8" width="3.9" height="4.9" fill="#fff" />
<rect x="187.2" y="314.1" width="3.9" height="4.9" fill="#fff" />
<rect x="187.2" y="329.8" width="3.9" height="4.9" fill="#fff" />
<rect x="193.2" y="314.1" width="3.9" height="4.9" fill="#fff" />
<rect x="193.2" y="329.8" width="3.9" height="4.9" fill="#fff" />
<rect x="199.2" y="314.1" width="3.9" height="4.9" fill="#fff" />
<rect x="199.2" y="329.8" width="3.9" height="4.9" fill="#fff" />
<rect x="205.2" y="314.1" width="3.9" height="4.9" fill="#fff" />
<rect x="205.2" y="329.8" width="3.9" height="4.9" fill="#fff" />
<rect x="211.2" y="314.1" width="3.9" height="4.9" fill="#fff" />
<rect x="211.2" y="329.8" width="3.9" height="4.9" fill="#fff" />
<rect x="217.2" y="314.1" width="3.9" height="4.9" fill="#fff" />
<rect x="217.2" y="329.8" width="3.9" height="4.9" fill="#fff" />
<rect x="223.2" y="314.1" width="3.9" height="4.9" fill="#fff" />
<rect x="223.2" y="329.8" width="3.9" height="4.9" fill="#fff" />
<rect x="229.2" y="314.1" width="3.9" height="4.9" fill="#fff" />
<rect x="229.2" y="329.8" width="3.9" height="4.9" fill="#fff" />
<rect x="235.2" y="314.1" width="3.9" height="4.9" fill="#fff" />
<rect x="235.2" y="329.8" width="3.9" height="4.9" fill="#fff" />
<rect x="241.2" y="314.1" width="3.9" height="4.9" fill="#fff" />
<rect x="241.2" y="329.8" width="3.9" height="4.9" fill="#fff" />
<rect x="186.2" y="322.2" width="23.4" height="4.5" fill="#fff" />
<rect x="214.6" y="322.2" width="25.4" height="4.5" fill="#fff" />
<polygon points="179.2,322.25 181.6,323.45 181.6,325.45 179.2,326.65" fill="#fff"/>
<rect x="124.75" y="417.05" width="12.9" height="73.7" rx="4" fill="#fff" stroke="#000" stroke-width="1.5"/>
<text transform="translate(131.2,428.4) scale(0.68,1)" text-anchor="middle" font-size="13.4">B</text>
<text transform="translate(131.2,443.7) scale(0.68,1)" text-anchor="middle" font-size="13.4">A</text>
<text transform="translate(131.2,459) scale(0.68,1)" text-anchor="middle" font-size="13.4">N</text>
<text transform="translate(131.2,474.2) scale(0.68,1)" text-anchor="middle" font-size="13.4">K</text>
<text transform="translate(131.2,488.6) scale(0.68,1)" text-anchor="middle" font-size="13.4">1</text>
<rect x="214.05" y="417.05" width="13.5" height="73.7" rx="4" fill="#fff" stroke="#000" stroke-width="1.5"/>
<text transform="translate(220.8,428.4) scale(0.68,1)" text-anchor="middle" font-size="13.4">B</text>
<text transform="translate(220.8,443.7) scale(0.68,1)" text-anchor="middle" font-size="13.4">A</text>
<text transform="translate(220.8,459) scale(0.68,1)" text-anchor="middle" font-size="13.4">N</text>
<text transform="translate(220.8,474.2) scale(0.68,1)" text-anchor="middle" font-size="13.4">K</text>
<text transform="translate(220.8,488.6) scale(0.68,1)" text-anchor="middle" font-size="13.4">0</text>
<rect x="151.3" y="447.5" width="1.7" height="14.8" fill="#000" />
<rect x="152.8" y="447.9" width="46.7" height="14.1" fill="#fff" />
<text transform="translate(156.8,459) scale(0.6,1)" text-anchor="middle" font-size="13.5">C</text>
<text transform="translate(166.4,459) scale(0.6,1)" text-anchor="middle" font-size="13.5">A</text>
<text transform="translate(172.4,459) scale(0.6,1)" text-anchor="middle" font-size="13.5">C</text>
<text transform="translate(184.6,459) scale(0.6,1)" text-anchor="middle" font-size="13.5">H</text>
<text transform="translate(193.7,459) scale(0.6,1)" text-anchor="middle" font-size="13.5">E</text>
<rect x="198.3" y="316.5" width="28.1" height="14.4" rx="1.5" fill="#fff" stroke="#000" stroke-width="1"/>
<text transform="translate(204.75,328.9) scale(0.68,1)" text-anchor="middle" font-size="14.2">U</text>
<text transform="translate(213.1,328.9) scale(0.68,1)" text-anchor="middle" font-size="14.2">3</text>
<text transform="translate(221.4,328.9) scale(0.68,1)" text-anchor="middle" font-size="14.2">8</text>
<rect x="206.7" y="363.3" width="30.5" height="15.2" rx="2" fill="#fff" stroke="#000" stroke-width="1"/>
<text transform="translate(212.15,375) scale(0.7,1)" text-anchor="middle" font-size="14.3">T</text>
<text transform="translate(220.5,375) scale(0.7,1)" text-anchor="middle" font-size="14.3">A</text>
<text transform="translate(229.85,375) scale(0.7,1)" text-anchor="middle" font-size="14.3">G</text>
<rect x="303.5" y="365.5" width="8.2" height="19.3" fill="#fff" stroke="#000" stroke-width="1"/>
<rect x="303" y="374.65" width="9" height="1" fill="#000" />
<rect x="303" y="365" width="219" height="1" fill="#000" />
<rect x="312.3" y="366" width="0.7" height="18.3" fill="#000" />
<rect x="313.8" y="366.5" width="1.8" height="17.8" fill="#000" />
<rect x="315" y="368" width="10" height="1" fill="#000" />
<rect x="324" y="368" width="1" height="11" fill="#000" />
<rect x="317.3" y="375" width="5.7" height="1" fill="#000" />
<rect x="317.3" y="375" width="1" height="4" fill="#000" />
<rect x="315" y="378" width="3.3" height="1" fill="#000" />
<rect x="322" y="375" width="1" height="9.3" fill="#000" />
<rect x="323" y="378" width="2" height="1" fill="#000" />
<rect x="322" y="383" width="200" height="1.4" fill="#000" />
<rect x="329.3" y="367.4" width="175.5" height="14.2" fill="#000" />
<rect x="331.2" y="369" width="2.3" height="5.8" fill="#fff" />
<rect x="335" y="369" width="2.4" height="5.8" fill="#fff" />
<rect x="338.3" y="369" width="3.8" height="5.8" fill="#fff" />
<rect x="339.7" y="376.3" width="1.1" height="4.5" fill="#fff" />
<rect x="344.215" y="369" width="3.8" height="5.8" fill="#fff" />
<rect x="345.615" y="376.3" width="1.1" height="4.5" fill="#fff" />
<rect x="350.13" y="369" width="3.8" height="5.8" fill="#fff" />
<rect x="351.53" y="376.3" width="1.1" height="4.5" fill="#fff" />
<rect x="356.045" y="369" width="3.8" height="5.8" fill="#fff" />
<rect x="357.445" y="376.3" width="1.1" height="4.5" fill="#fff" />
<rect x="361.96" y="369" width="3.8" height="5.8" fill="#fff" />
<rect x="363.36" y="376.3" width="1.1" height="4.5" fill="#fff" />
<rect x="367.875" y="369" width="3.8" height="5.8" fill="#fff" />
<rect x="369.275" y="376.3" width="1.1" height="4.5" fill="#fff" />
<rect x="373.79" y="369" width="3.8" height="5.8" fill="#fff" />
<rect x="375.19" y="376.3" width="1.1" height="4.5" fill="#fff" />
<rect x="379.705" y="369" width="3.8" height="5.8" fill="#fff" />
<rect x="381.105" y="376.3" width="1.1" height="4.5" fill="#fff" />
<rect x="385.62" y="369" width="3.8" height="5.8" fill="#fff" />
<rect x="387.02" y="376.3" width="1.1" height="4.5" fill="#fff" />
<rect x="391.535" y="369" width="3.8" height="5.8" fill="#fff" />
<rect x="392.935" y="376.3" width="1.1" height="4.5" fill="#fff" />
<rect x="397.45" y="369" width="3.8" height="5.8" fill="#fff" />
<rect x="398.85" y="376.3" width="1.1" height="4.5" fill="#fff" />
<rect x="403.365" y="369" width="3.8" height="5.8" fill="#fff" />
<rect x="404.765" y="376.3" width="1.1" height="4.5" fill="#fff" />
<rect x="409.28" y="369" width="3.8" height="5.8" fill="#fff" />
<rect x="410.68" y="376.3" width="1.1" height="4.5" fill="#fff" />
<rect x="415.195" y="369" width="3.8" height="5.8" fill="#fff" />
<rect x="416.595" y="376.3" width="1.1" height="4.5" fill="#fff" />
<rect x="421.11" y="369" width="3.8" height="5.8" fill="#fff" />
<rect x="422.51" y="376.3" width="1.1" height="4.5" fill="#fff" />
<rect x="427.025" y="369" width="3.8" height="5.8" fill="#fff" />
<rect x="428.425" y="376.3" width="1.1" height="4.5" fill="#fff" />
<rect x="432.94" y="369" width="3.8" height="5.8" fill="#fff" />
<rect x="434.34" y="376.3" width="1.1" height="4.5" fill="#fff" />
<rect x="438.855" y="369" width="3.8" height="5.8" fill="#fff" />
<rect x="440.255" y="376.3" width="1.1" height="4.5" fill="#fff" />
<rect x="444.77" y="369" width="3.8" height="5.8" fill="#fff" />
<rect x="446.17" y="376.3" width="1.1" height="4.5" fill="#fff" />
<rect x="450.685" y="369" width="3.8" height="5.8" fill="#fff" />
<rect x="452.085" y="376.3" width="1.1" height="4.5" fill="#fff" />
<rect x="456.6" y="369" width="3.8" height="5.8" fill="#fff" />
<rect x="458" y="376.3" width="1.1" height="4.5" fill="#fff" />
<rect x="462.515" y="369" width="3.8" height="5.8" fill="#fff" />
<rect x="463.915" y="376.3" width="1.1" height="4.5" fill="#fff" />
<rect x="468.43" y="369" width="3.8" height="5.8" fill="#fff" />
<rect x="469.83" y="376.3" width="1.1" height="4.5" fill="#fff" />
<rect x="474.345" y="369" width="3.8" height="5.8" fill="#fff" />
<rect x="475.745" y="376.3" width="1.1" height="4.5" fill="#fff" />
<rect x="480.26" y="369" width="3.8" height="5.8" fill="#fff" />
<rect x="481.66" y="376.3" width="1.1" height="4.5" fill="#fff" />
<rect x="486.175" y="369" width="3.8" height="5.8" fill="#fff" />
<rect x="487.575" y="376.3" width="1.1" height="4.5" fill="#fff" />
<rect x="492.09" y="369" width="3.8" height="5.8" fill="#fff" />
<rect x="493.49" y="376.3" width="1.1" height="4.5" fill="#fff" />
<rect x="498.005" y="369" width="3.8" height="5.8" fill="#fff" />
<rect x="499.405" y="376.3" width="1.1" height="4.5" fill="#fff" />
<rect x="502.8" y="369" width="1.2" height="6" fill="#fff" />
<rect x="409.6" y="374" width="1.2" height="6.8" fill="#fff" />
<rect x="421.4" y="374" width="1.2" height="6.8" fill="#fff" />
<rect x="462.8" y="374" width="1.2" height="6.8" fill="#fff" />
<rect x="492.7" y="374" width="1.2" height="6.8" fill="#fff" />
<rect x="509.5" y="368" width="9.5" height="1" fill="#000" />
<rect x="509.5" y="368" width="1" height="11" fill="#000" />
<rect x="511.7" y="375" width="5.6" height="1" fill="#000" />
<rect x="516.3" y="375" width="1" height="4" fill="#000" />
<rect x="516.3" y="378" width="2.7" height="1" fill="#000" />
<rect x="511.7" y="375" width="1" height="9.3" fill="#000" />
<rect x="509.5" y="378" width="2.2" height="1" fill="#000" />
<rect x="513.5" y="377" width="2.8" height="2" fill="#000" />
<rect x="519" y="366.5" width="3.2" height="17.8" fill="#000" />
<rect x="522.5" y="365.5" width="5.5" height="4" fill="#fff" stroke="#000" stroke-width="1"/>
<rect x="522.5" y="369.5" width="7" height="7.65" fill="#fff" stroke="#000" stroke-width="1"/>
<rect x="522.5" y="377.15" width="7" height="7.65" fill="#fff" stroke="#000" stroke-width="1"/>
<rect x="303.5" y="384.8" width="8.2" height="19" fill="#fff" stroke="#000" stroke-width="1"/>
<rect x="303" y="393.8" width="9" height="1" fill="#000" />
<rect x="303" y="384.3" width="219" height="1" fill="#000" />
<rect x="312.3" y="385.3" width="0.7" height="18" fill="#000" />
<rect x="313.8" y="385.8" width="1.8" height="17.5" fill="#000" />
<rect x="315" y="387.3" width="10" height="1" fill="#000" />
<rect x="324" y="387.3" width="1" height="11" fill="#000" />
<rect x="317.3" y="394.3" width="5.7" height="1" fill="#000" />
<rect x="317.3" y="394.3" width="1" height="4" fill="#000" />
<rect x="315" y="397.3" width="3.3" height="1" fill="#000" />
<rect x="322" y="394.3" width="1" height="9" fill="#000" />
<rect x="323" y="397.3" width="2" height="1" fill="#000" />
<rect x="322" y="402" width="200" height="1.4" fill="#000" />
<rect x="329.3" y="386.7" width="175.5" height="14.2" fill="#000" />
<rect x="331.2" y="388.3" width="2.3" height="5.8" fill="#fff" />
<rect x="335" y="388.3" width="2.4" height="5.8" fill="#fff" />
<rect x="338.3" y="388.3" width="3.8" height="5.8" fill="#fff" />
<rect x="339.7" y="395.6" width="1.1" height="4.5" fill="#fff" />
<rect x="344.215" y="388.3" width="3.8" height="5.8" fill="#fff" />
<rect x="345.615" y="395.6" width="1.1" height="4.5" fill="#fff" />
<rect x="350.13" y="388.3" width="3.8" height="5.8" fill="#fff" />
<rect x="351.53" y="395.6" width="1.1" height="4.5" fill="#fff" />
<rect x="356.045" y="388.3" width="3.8" height="5.8" fill="#fff" />
<rect x="357.445" y="395.6" width="1.1" height="4.5" fill="#fff" />
<rect x="361.96" y="388.3" width="3.8" height="5.8" fill="#fff" />
<rect x="363.36" y="395.6" width="1.1" height="4.5" fill="#fff" />
<rect x="367.875" y="388.3" width="3.8" height="5.8" fill="#fff" />
<rect x="369.275" y="395.6" width="1.1" height="4.5" fill="#fff" />
<rect x="373.79" y="388.3" width="3.8" height="5.8" fill="#fff" />
<rect x="375.19" y="395.6" width="1.1" height="4.5" fill="#fff" />
<rect x="379.705" y="388.3" width="3.8" height="5.8" fill="#fff" />
<rect x="381.105" y="395.6" width="1.1" height="4.5" fill="#fff" />
<rect x="385.62" y="388.3" width="3.8" height="5.8" fill="#fff" />
<rect x="387.02" y="395.6" width="1.1" height="4.5" fill="#fff" />
<rect x="391.535" y="388.3" width="3.8" height="5.8" fill="#fff" />
<rect x="392.935" y="395.6" width="1.1" height="4.5" fill="#fff" />
<rect x="397.45" y="388.3" width="3.8" height="5.8" fill="#fff" />
<rect x="398.85" y="395.6" width="1.1" height="4.5" fill="#fff" />
<rect x="403.365" y="388.3" width="3.8" height="5.8" fill="#fff" />
<rect x="404.765" y="395.6" width="1.1" height="4.5" fill="#fff" />
<rect x="409.28" y="388.3" width="3.8" height="5.8" fill="#fff" />
<rect x="410.68" y="395.6" width="1.1" height="4.5" fill="#fff" />
<rect x="415.195" y="388.3" width="3.8" height="5.8" fill="#fff" />
<rect x="416.595" y="395.6" width="1.1" height="4.5" fill="#fff" />
<rect x="421.11" y="388.3" width="3.8" height="5.8" fill="#fff" />
<rect x="422.51" y="395.6" width="1.1" height="4.5" fill="#fff" />
<rect x="427.025" y="388.3" width="3.8" height="5.8" fill="#fff" />
<rect x="428.425" y="395.6" width="1.1" height="4.5" fill="#fff" />
<rect x="432.94" y="388.3" width="3.8" height="5.8" fill="#fff" />
<rect x="434.34" y="395.6" width="1.1" height="4.5" fill="#fff" />
<rect x="438.855" y="388.3" width="3.8" height="5.8" fill="#fff" />
<rect x="440.255" y="395.6" width="1.1" height="4.5" fill="#fff" />
<rect x="444.77" y="388.3" width="3.8" height="5.8" fill="#fff" />
<rect x="446.17" y="395.6" width="1.1" height="4.5" fill="#fff" />
<rect x="450.685" y="388.3" width="3.8" height="5.8" fill="#fff" />
<rect x="452.085" y="395.6" width="1.1" height="4.5" fill="#fff" />
<rect x="456.6" y="388.3" width="3.8" height="5.8" fill="#fff" />
<rect x="458" y="395.6" width="1.1" height="4.5" fill="#fff" />
<rect x="462.515" y="388.3" width="3.8" height="5.8" fill="#fff" />
<rect x="463.915" y="395.6" width="1.1" height="4.5" fill="#fff" />
<rect x="468.43" y="388.3" width="3.8" height="5.8" fill="#fff" />
<rect x="469.83" y="395.6" width="1.1" height="4.5" fill="#fff" />
<rect x="474.345" y="388.3" width="3.8" height="5.8" fill="#fff" />
<rect x="475.745" y="395.6" width="1.1" height="4.5" fill="#fff" />
<rect x="480.26" y="388.3" width="3.8" height="5.8" fill="#fff" />
<rect x="481.66" y="395.6" width="1.1" height="4.5" fill="#fff" />
<rect x="486.175" y="388.3" width="3.8" height="5.8" fill="#fff" />
<rect x="487.575" y="395.6" width="1.1" height="4.5" fill="#fff" />
<rect x="492.09" y="388.3" width="3.8" height="5.8" fill="#fff" />
<rect x="493.49" y="395.6" width="1.1" height="4.5" fill="#fff" />
<rect x="498.005" y="388.3" width="3.8" height="5.8" fill="#fff" />
<rect x="499.405" y="395.6" width="1.1" height="4.5" fill="#fff" />
<rect x="502.8" y="388.3" width="1.2" height="6" fill="#fff" />
<rect x="409.6" y="393.3" width="1.2" height="6.8" fill="#fff" />
<rect x="421.4" y="393.3" width="1.2" height="6.8" fill="#fff" />
<rect x="462.8" y="393.3" width="1.2" height="6.8" fill="#fff" />
<rect x="492.7" y="393.3" width="1.2" height="6.8" fill="#fff" />
<rect x="509.5" y="387.3" width="9.5" height="1" fill="#000" />
<rect x="509.5" y="387.3" width="1" height="11" fill="#000" />
<rect x="511.7" y="394.3" width="5.6" height="1" fill="#000" />
<rect x="516.3" y="394.3" width="1" height="4" fill="#000" />
<rect x="516.3" y="397.3" width="2.7" height="1" fill="#000" />
<rect x="511.7" y="394.3" width="1" height="9" fill="#000" />
<rect x="509.5" y="397.3" width="2.2" height="1" fill="#000" />
<rect x="513.5" y="396.3" width="2.8" height="2" fill="#000" />
<rect x="519" y="385.8" width="3.2" height="17.5" fill="#000" />
<rect x="522.5" y="384.8" width="5.5" height="4" fill="#fff" stroke="#000" stroke-width="1"/>
<rect x="522.5" y="388.8" width="7" height="7.5" fill="#fff" stroke="#000" stroke-width="1"/>
<rect x="522.5" y="396.3" width="7" height="7.5" fill="#fff" stroke="#000" stroke-width="1"/>
<rect x="303.5" y="403.8" width="8.2" height="19" fill="#fff" stroke="#000" stroke-width="1"/>
<rect x="303" y="412.8" width="9" height="1" fill="#000" />
<rect x="303" y="403.3" width="219" height="1" fill="#000" />
<rect x="312.3" y="404.3" width="0.7" height="18" fill="#000" />
<rect x="313.8" y="404.8" width="1.8" height="17.5" fill="#000" />
<rect x="315" y="406.3" width="10" height="1" fill="#000" />
<rect x="324" y="406.3" width="1" height="11" fill="#000" />
<rect x="317.3" y="413.3" width="5.7" height="1" fill="#000" />
<rect x="317.3" y="413.3" width="1" height="4" fill="#000" />
<rect x="315" y="416.3" width="3.3" height="1" fill="#000" />
<rect x="322" y="413.3" width="1" height="9" fill="#000" />
<rect x="323" y="416.3" width="2" height="1" fill="#000" />
<rect x="322" y="421" width="200" height="1.4" fill="#000" />
<rect x="329.3" y="405.7" width="175.5" height="14.2" fill="#000" />
<rect x="331.2" y="407.3" width="2.3" height="5.8" fill="#fff" />
<rect x="335" y="407.3" width="2.4" height="5.8" fill="#fff" />
<rect x="338.3" y="407.3" width="3.8" height="5.8" fill="#fff" />
<rect x="339.7" y="414.6" width="1.1" height="4.5" fill="#fff" />
<rect x="344.215" y="407.3" width="3.8" height="5.8" fill="#fff" />
<rect x="345.615" y="414.6" width="1.1" height="4.5" fill="#fff" />
<rect x="350.13" y="407.3" width="3.8" height="5.8" fill="#fff" />
<rect x="351.53" y="414.6" width="1.1" height="4.5" fill="#fff" />
<rect x="356.045" y="407.3" width="3.8" height="5.8" fill="#fff" />
<rect x="357.445" y="414.6" width="1.1" height="4.5" fill="#fff" />
<rect x="361.96" y="407.3" width="3.8" height="5.8" fill="#fff" />
<rect x="363.36" y="414.6" width="1.1" height="4.5" fill="#fff" />
<rect x="367.875" y="407.3" width="3.8" height="5.8" fill="#fff" />
<rect x="369.275" y="414.6" width="1.1" height="4.5" fill="#fff" />
<rect x="373.79" y="407.3" width="3.8" height="5.8" fill="#fff" />
<rect x="375.19" y="414.6" width="1.1" height="4.5" fill="#fff" />
<rect x="379.705" y="407.3" width="3.8" height="5.8" fill="#fff" />
<rect x="381.105" y="414.6" width="1.1" height="4.5" fill="#fff" />
<rect x="385.62" y="407.3" width="3.8" height="5.8" fill="#fff" />
<rect x="387.02" y="414.6" width="1.1" height="4.5" fill="#fff" />
<rect x="391.535" y="407.3" width="3.8" height="5.8" fill="#fff" />
<rect x="392.935" y="414.6" width="1.1" height="4.5" fill="#fff" />
<rect x="397.45" y="407.3" width="3.8" height="5.8" fill="#fff" />
<rect x="398.85" y="414.6" width="1.1" height="4.5" fill="#fff" />
<rect x="403.365" y="407.3" width="3.8" height="5.8" fill="#fff" />
<rect x="404.765" y="414.6" width="1.1" height="4.5" fill="#fff" />
<rect x="409.28" y="407.3" width="3.8" height="5.8" fill="#fff" />
<rect x="410.68" y="414.6" width="1.1" height="4.5" fill="#fff" />
<rect x="415.195" y="407.3" width="3.8" height="5.8" fill="#fff" />
<rect x="416.595" y="414.6" width="1.1" height="4.5" fill="#fff" />
<rect x="421.11" y="407.3" width="3.8" height="5.8" fill="#fff" />
<rect x="422.51" y="414.6" width="1.1" height="4.5" fill="#fff" />
<rect x="427.025" y="407.3" width="3.8" height="5.8" fill="#fff" />
<rect x="428.425" y="414.6" width="1.1" height="4.5" fill="#fff" />
<rect x="432.94" y="407.3" width="3.8" height="5.8" fill="#fff" />
<rect x="434.34" y="414.6" width="1.1" height="4.5" fill="#fff" />
<rect x="438.855" y="407.3" width="3.8" height="5.8" fill="#fff" />
<rect x="440.255" y="414.6" width="1.1" height="4.5" fill="#fff" />
<rect x="444.77" y="407.3" width="3.8" height="5.8" fill="#fff" />
<rect x="446.17" y="414.6" width="1.1" height="4.5" fill="#fff" />
<rect x="450.685" y="407.3" width="3.8" height="5.8" fill="#fff" />
<rect x="452.085" y="414.6" width="1.1" height="4.5" fill="#fff" />
<rect x="456.6" y="407.3" width="3.8" height="5.8" fill="#fff" />
<rect x="458" y="414.6" width="1.1" height="4.5" fill="#fff" />
<rect x="462.515" y="407.3" width="3.8" height="5.8" fill="#fff" />
<rect x="463.915" y="414.6" width="1.1" height="4.5" fill="#fff" />
<rect x="468.43" y="407.3" width="3.8" height="5.8" fill="#fff" />
<rect x="469.83" y="414.6" width="1.1" height="4.5" fill="#fff" />
<rect x="474.345" y="407.3" width="3.8" height="5.8" fill="#fff" />
<rect x="475.745" y="414.6" width="1.1" height="4.5" fill="#fff" />
<rect x="480.26" y="407.3" width="3.8" height="5.8" fill="#fff" />
<rect x="481.66" y="414.6" width="1.1" height="4.5" fill="#fff" />
<rect x="486.175" y="407.3" width="3.8" height="5.8" fill="#fff" />
<rect x="487.575" y="414.6" width="1.1" height="4.5" fill="#fff" />
<rect x="492.09" y="407.3" width="3.8" height="5.8" fill="#fff" />
<rect x="493.49" y="414.6" width="1.1" height="4.5" fill="#fff" />
<rect x="498.005" y="407.3" width="3.8" height="5.8" fill="#fff" />
<rect x="499.405" y="414.6" width="1.1" height="4.5" fill="#fff" />
<rect x="502.8" y="407.3" width="1.2" height="6" fill="#fff" />
<rect x="409.6" y="412.3" width="1.2" height="6.8" fill="#fff" />
<rect x="421.4" y="412.3" width="1.2" height="6.8" fill="#fff" />
<rect x="462.8" y="412.3" width="1.2" height="6.8" fill="#fff" />
<rect x="492.7" y="412.3" width="1.2" height="6.8" fill="#fff" />
<rect x="509.5" y="406.3" width="9.5" height="1" fill="#000" />
<rect x="509.5" y="406.3" width="1" height="11" fill="#000" />
<rect x="511.7" y="413.3" width="5.6" height="1" fill="#000" />
<rect x="516.3" y="413.3" width="1" height="4" fill="#000" />
<rect x="516.3" y="416.3" width="2.7" height="1" fill="#000" />
<rect x="511.7" y="413.3" width="1" height="9" fill="#000" />
<rect x="509.5" y="416.3" width="2.2" height="1" fill="#000" />
<rect x="513.5" y="415.3" width="2.8" height="2" fill="#000" />
<rect x="519" y="404.8" width="3.2" height="17.5" fill="#000" />
<rect x="522.5" y="403.8" width="5.5" height="4" fill="#fff" stroke="#000" stroke-width="1"/>
<rect x="522.5" y="407.8" width="7" height="7.5" fill="#fff" stroke="#000" stroke-width="1"/>
<rect x="522.5" y="415.3" width="7" height="7.5" fill="#fff" stroke="#000" stroke-width="1"/>
<rect x="303.5" y="422.8" width="8.2" height="19.2" fill="#fff" stroke="#000" stroke-width="1"/>
<rect x="303" y="431.9" width="9" height="1" fill="#000" />
<rect x="303" y="422.3" width="219" height="1" fill="#000" />
<rect x="312.3" y="423.3" width="0.7" height="18.2" fill="#000" />
<rect x="313.8" y="423.8" width="1.8" height="17.7" fill="#000" />
<rect x="315" y="425.3" width="10" height="1" fill="#000" />
<rect x="324" y="425.3" width="1" height="11" fill="#000" />
<rect x="317.3" y="432.3" width="5.7" height="1" fill="#000" />
<rect x="317.3" y="432.3" width="1" height="4" fill="#000" />
<rect x="315" y="435.3" width="3.3" height="1" fill="#000" />
<rect x="322" y="432.3" width="1" height="9.2" fill="#000" />
<rect x="323" y="435.3" width="2" height="1" fill="#000" />
<rect x="322" y="440.2" width="200" height="1.4" fill="#000" />
<rect x="329.3" y="424.7" width="175.5" height="14.2" fill="#000" />
<rect x="331.2" y="426.3" width="2.3" height="5.8" fill="#fff" />
<rect x="335" y="426.3" width="2.4" height="5.8" fill="#fff" />
<rect x="338.3" y="426.3" width="3.8" height="5.8" fill="#fff" />
<rect x="339.7" y="433.6" width="1.1" height="4.5" fill="#fff" />
<rect x="344.215" y="426.3" width="3.8" height="5.8" fill="#fff" />
<rect x="345.615" y="433.6" width="1.1" height="4.5" fill="#fff" />
<rect x="350.13" y="426.3" width="3.8" height="5.8" fill="#fff" />
<rect x="351.53" y="433.6" width="1.1" height="4.5" fill="#fff" />
<rect x="356.045" y="426.3" width="3.8" height="5.8" fill="#fff" />
<rect x="357.445" y="433.6" width="1.1" height="4.5" fill="#fff" />
<rect x="361.96" y="426.3" width="3.8" height="5.8" fill="#fff" />
<rect x="363.36" y="433.6" width="1.1" height="4.5" fill="#fff" />
<rect x="367.875" y="426.3" width="3.8" height="5.8" fill="#fff" />
<rect x="369.275" y="433.6" width="1.1" height="4.5" fill="#fff" />
<rect x="373.79" y="426.3" width="3.8" height="5.8" fill="#fff" />
<rect x="375.19" y="433.6" width="1.1" height="4.5" fill="#fff" />
<rect x="379.705" y="426.3" width="3.8" height="5.8" fill="#fff" />
<rect x="381.105" y="433.6" width="1.1" height="4.5" fill="#fff" />
<rect x="385.62" y="426.3" width="3.8" height="5.8" fill="#fff" />
<rect x="387.02" y="433.6" width="1.1" height="4.5" fill="#fff" />
<rect x="391.535" y="426.3" width="3.8" height="5.8" fill="#fff" />
<rect x="392.935" y="433.6" width="1.1" height="4.5" fill="#fff" />
<rect x="397.45" y="426.3" width="3.8" height="5.8" fill="#fff" />
<rect x="398.85" y="433.6" width="1.1" height="4.5" fill="#fff" />
<rect x="403.365" y="426.3" width="3.8" height="5.8" fill="#fff" />
<rect x="404.765" y="433.6" width="1.1" height="4.5" fill="#fff" />
<rect x="409.28" y="426.3" width="3.8" height="5.8" fill="#fff" />
<rect x="410.68" y="433.6" width="1.1" height="4.5" fill="#fff" />
<rect x="415.195" y="426.3" width="3.8" height="5.8" fill="#fff" />
<rect x="416.595" y="433.6" width="1.1" height="4.5" fill="#fff" />
<rect x="421.11" y="426.3" width="3.8" height="5.8" fill="#fff" />
<rect x="422.51" y="433.6" width="1.1" height="4.5" fill="#fff" />
<rect x="427.025" y="426.3" width="3.8" height="5.8" fill="#fff" />
<rect x="428.425" y="433.6" width="1.1" height="4.5" fill="#fff" />
<rect x="432.94" y="426.3" width="3.8" height="5.8" fill="#fff" />
<rect x="434.34" y="433.6" width="1.1" height="4.5" fill="#fff" />
<rect x="438.855" y="426.3" width="3.8" height="5.8" fill="#fff" />
<rect x="440.255" y="433.6" width="1.1" height="4.5" fill="#fff" />
<rect x="444.77" y="426.3" width="3.8" height="5.8" fill="#fff" />
<rect x="446.17" y="433.6" width="1.1" height="4.5" fill="#fff" />
<rect x="450.685" y="426.3" width="3.8" height="5.8" fill="#fff" />
<rect x="452.085" y="433.6" width="1.1" height="4.5" fill="#fff" />
<rect x="456.6" y="426.3" width="3.8" height="5.8" fill="#fff" />
<rect x="458" y="433.6" width="1.1" height="4.5" fill="#fff" />
<rect x="462.515" y="426.3" width="3.8" height="5.8" fill="#fff" />
<rect x="463.915" y="433.6" width="1.1" height="4.5" fill="#fff" />
<rect x="468.43" y="426.3" width="3.8" height="5.8" fill="#fff" />
<rect x="469.83" y="433.6" width="1.1" height="4.5" fill="#fff" />
<rect x="474.345" y="426.3" width="3.8" height="5.8" fill="#fff" />
<rect x="475.745" y="433.6" width="1.1" height="4.5" fill="#fff" />
<rect x="480.26" y="426.3" width="3.8" height="5.8" fill="#fff" />
<rect x="481.66" y="433.6" width="1.1" height="4.5" fill="#fff" />
<rect x="486.175" y="426.3" width="3.8" height="5.8" fill="#fff" />
<rect x="487.575" y="433.6" width="1.1" height="4.5" fill="#fff" />
<rect x="492.09" y="426.3" width="3.8" height="5.8" fill="#fff" />
<rect x="493.49" y="433.6" width="1.1" height="4.5" fill="#fff" />
<rect x="498.005" y="426.3" width="3.8" height="5.8" fill="#fff" />
<rect x="499.405" y="433.6" width="1.1" height="4.5" fill="#fff" />
<rect x="502.8" y="426.3" width="1.2" height="6" fill="#fff" />
<rect x="409.6" y="431.3" width="1.2" height="6.8" fill="#fff" />
<rect x="421.4" y="431.3" width="1.2" height="6.8" fill="#fff" />
<rect x="462.8" y="431.3" width="1.2" height="6.8" fill="#fff" />
<rect x="492.7" y="431.3" width="1.2" height="6.8" fill="#fff" />
<rect x="509.5" y="425.3" width="9.5" height="1" fill="#000" />
<rect x="509.5" y="425.3" width="1" height="11" fill="#000" />
<rect x="511.7" y="432.3" width="5.6" height="1" fill="#000" />
<rect x="516.3" y="432.3" width="1" height="4" fill="#000" />
<rect x="516.3" y="435.3" width="2.7" height="1" fill="#000" />
<rect x="511.7" y="432.3" width="1" height="9.2" fill="#000" />
<rect x="509.5" y="435.3" width="2.2" height="1" fill="#000" />
<rect x="513.5" y="434.3" width="2.8" height="2" fill="#000" />
<rect x="519" y="423.8" width="3.2" height="17.7" fill="#000" />
<rect x="522.5" y="422.8" width="5.5" height="4" fill="#fff" stroke="#000" stroke-width="1"/>
<rect x="522.5" y="426.8" width="7" height="7.6" fill="#fff" stroke="#000" stroke-width="1"/>
<rect x="522.5" y="434.4" width="7" height="7.6" fill="#fff" stroke="#000" stroke-width="1"/>
<rect x="303.5" y="444.5" width="8.2" height="18.8" fill="#fff" stroke="#000" stroke-width="1"/>
<rect x="303" y="453.4" width="9" height="1" fill="#000" />
<rect x="303" y="444" width="219" height="1" fill="#000" />
<rect x="312.3" y="445" width="0.7" height="17.8" fill="#000" />
<rect x="313.8" y="445.5" width="1.8" height="17.3" fill="#000" />
<rect x="315" y="447" width="10" height="1" fill="#000" />
<rect x="324" y="447" width="1" height="11" fill="#000" />
<rect x="317.3" y="454" width="5.7" height="1" fill="#000" />
<rect x="317.3" y="454" width="1" height="4" fill="#000" />
<rect x="315" y="457" width="3.3" height="1" fill="#000" />
<rect x="322" y="454" width="1" height="8.8" fill="#000" />
<rect x="323" y="457" width="2" height="1" fill="#000" />
<rect x="322" y="461.5" width="200" height="1.4" fill="#000" />
<rect x="329.3" y="446.4" width="175.5" height="14.2" fill="#000" />
<rect x="331.2" y="448" width="2.3" height="5.8" fill="#fff" />
<rect x="335" y="448" width="2.4" height="5.8" fill="#fff" />
<rect x="338.3" y="448" width="3.8" height="5.8" fill="#fff" />
<rect x="339.7" y="455.3" width="1.1" height="4.5" fill="#fff" />
<rect x="344.215" y="448" width="3.8" height="5.8" fill="#fff" />
<rect x="345.615" y="455.3" width="1.1" height="4.5" fill="#fff" />
<rect x="350.13" y="448" width="3.8" height="5.8" fill="#fff" />
<rect x="351.53" y="455.3" width="1.1" height="4.5" fill="#fff" />
<rect x="356.045" y="448" width="3.8" height="5.8" fill="#fff" />
<rect x="357.445" y="455.3" width="1.1" height="4.5" fill="#fff" />
<rect x="361.96" y="448" width="3.8" height="5.8" fill="#fff" />
<rect x="363.36" y="455.3" width="1.1" height="4.5" fill="#fff" />
<rect x="367.875" y="448" width="3.8" height="5.8" fill="#fff" />
<rect x="369.275" y="455.3" width="1.1" height="4.5" fill="#fff" />
<rect x="373.79" y="448" width="3.8" height="5.8" fill="#fff" />
<rect x="375.19" y="455.3" width="1.1" height="4.5" fill="#fff" />
<rect x="379.705" y="448" width="3.8" height="5.8" fill="#fff" />
<rect x="381.105" y="455.3" width="1.1" height="4.5" fill="#fff" />
<rect x="385.62" y="448" width="3.8" height="5.8" fill="#fff" />
<rect x="387.02" y="455.3" width="1.1" height="4.5" fill="#fff" />
<rect x="391.535" y="448" width="3.8" height="5.8" fill="#fff" />
<rect x="392.935" y="455.3" width="1.1" height="4.5" fill="#fff" />
<rect x="397.45" y="448" width="3.8" height="5.8" fill="#fff" />
<rect x="398.85" y="455.3" width="1.1" height="4.5" fill="#fff" />
<rect x="403.365" y="448" width="3.8" height="5.8" fill="#fff" />
<rect x="404.765" y="455.3" width="1.1" height="4.5" fill="#fff" />
<rect x="409.28" y="448" width="3.8" height="5.8" fill="#fff" />
<rect x="410.68" y="455.3" width="1.1" height="4.5" fill="#fff" />
<rect x="415.195" y="448" width="3.8" height="5.8" fill="#fff" />
<rect x="416.595" y="455.3" width="1.1" height="4.5" fill="#fff" />
<rect x="421.11" y="448" width="3.8" height="5.8" fill="#fff" />
<rect x="422.51" y="455.3" width="1.1" height="4.5" fill="#fff" />
<rect x="427.025" y="448" width="3.8" height="5.8" fill="#fff" />
<rect x="428.425" y="455.3" width="1.1" height="4.5" fill="#fff" />
<rect x="432.94" y="448" width="3.8" height="5.8" fill="#fff" />
<rect x="434.34" y="455.3" width="1.1" height="4.5" fill="#fff" />
<rect x="438.855" y="448" width="3.8" height="5.8" fill="#fff" />
<rect x="440.255" y="455.3" width="1.1" height="4.5" fill="#fff" />
<rect x="444.77" y="448" width="3.8" height="5.8" fill="#fff" />
<rect x="446.17" y="455.3" width="1.1" height="4.5" fill="#fff" />
<rect x="450.685" y="448" width="3.8" height="5.8" fill="#fff" />
<rect x="452.085" y="455.3" width="1.1" height="4.5" fill="#fff" />
<rect x="456.6" y="448" width="3.8" height="5.8" fill="#fff" />
<rect x="458" y="455.3" width="1.1" height="4.5" fill="#fff" />
<rect x="462.515" y="448" width="3.8" height="5.8" fill="#fff" />
<rect x="463.915" y="455.3" width="1.1" height="4.5" fill="#fff" />
<rect x="468.43" y="448" width="3.8" height="5.8" fill="#fff" />
<rect x="469.83" y="455.3" width="1.1" height="4.5" fill="#fff" />
<rect x="474.345" y="448" width="3.8" height="5.8" fill="#fff" />
<rect x="475.745" y="455.3" width="1.1" height="4.5" fill="#fff" />
<rect x="480.26" y="448" width="3.8" height="5.8" fill="#fff" />
<rect x="481.66" y="455.3" width="1.1" height="4.5" fill="#fff" />
<rect x="486.175" y="448" width="3.8" height="5.8" fill="#fff" />
<rect x="487.575" y="455.3" width="1.1" height="4.5" fill="#fff" />
<rect x="492.09" y="448" width="3.8" height="5.8" fill="#fff" />
<rect x="493.49" y="455.3" width="1.1" height="4.5" fill="#fff" />
<rect x="498.005" y="448" width="3.8" height="5.8" fill="#fff" />
<rect x="499.405" y="455.3" width="1.1" height="4.5" fill="#fff" />
<rect x="502.8" y="448" width="1.2" height="6" fill="#fff" />
<rect x="409.6" y="453" width="1.2" height="6.8" fill="#fff" />
<rect x="421.4" y="453" width="1.2" height="6.8" fill="#fff" />
<rect x="462.8" y="453" width="1.2" height="6.8" fill="#fff" />
<rect x="492.7" y="453" width="1.2" height="6.8" fill="#fff" />
<rect x="509.5" y="447" width="9.5" height="1" fill="#000" />
<rect x="509.5" y="447" width="1" height="11" fill="#000" />
<rect x="511.7" y="454" width="5.6" height="1" fill="#000" />
<rect x="516.3" y="454" width="1" height="4" fill="#000" />
<rect x="516.3" y="457" width="2.7" height="1" fill="#000" />
<rect x="511.7" y="454" width="1" height="8.8" fill="#000" />
<rect x="509.5" y="457" width="2.2" height="1" fill="#000" />
<rect x="513.5" y="456" width="2.8" height="2" fill="#000" />
<rect x="519" y="445.5" width="3.2" height="17.3" fill="#000" />
<rect x="522.5" y="444.5" width="5.5" height="4" fill="#fff" stroke="#000" stroke-width="1"/>
<rect x="522.5" y="448.5" width="7" height="7.4" fill="#fff" stroke="#000" stroke-width="1"/>
<rect x="522.5" y="455.9" width="7" height="7.4" fill="#fff" stroke="#000" stroke-width="1"/>
<rect x="303.5" y="463.3" width="8.2" height="19" fill="#fff" stroke="#000" stroke-width="1"/>
<rect x="303" y="472.3" width="9" height="1" fill="#000" />
<rect x="303" y="462.8" width="219" height="1" fill="#000" />
<rect x="312.3" y="463.8" width="0.7" height="18" fill="#000" />
<rect x="313.8" y="464.3" width="1.8" height="17.5" fill="#000" />
<rect x="315" y="465.8" width="10" height="1" fill="#000" />
<rect x="324" y="465.8" width="1" height="11" fill="#000" />
<rect x="317.3" y="472.8" width="5.7" height="1" fill="#000" />
<rect x="317.3" y="472.8" width="1" height="4" fill="#000" />
<rect x="315" y="475.8" width="3.3" height="1" fill="#000" />
<rect x="322" y="472.8" width="1" height="9" fill="#000" />
<rect x="323" y="475.8" width="2" height="1" fill="#000" />
<rect x="322" y="480.5" width="200" height="1.4" fill="#000" />
<rect x="329.3" y="465.2" width="175.5" height="14.2" fill="#000" />
<rect x="331.2" y="466.8" width="2.3" height="5.8" fill="#fff" />
<rect x="335" y="466.8" width="2.4" height="5.8" fill="#fff" />
<rect x="338.3" y="466.8" width="3.8" height="5.8" fill="#fff" />
<rect x="339.7" y="474.1" width="1.1" height="4.5" fill="#fff" />
<rect x="344.215" y="466.8" width="3.8" height="5.8" fill="#fff" />
<rect x="345.615" y="474.1" width="1.1" height="4.5" fill="#fff" />
<rect x="350.13" y="466.8" width="3.8" height="5.8" fill="#fff" />
<rect x="351.53" y="474.1" width="1.1" height="4.5" fill="#fff" />
<rect x="356.045" y="466.8" width="3.8" height="5.8" fill="#fff" />
<rect x="357.445" y="474.1" width="1.1" height="4.5" fill="#fff" />
<rect x="361.96" y="466.8" width="3.8" height="5.8" fill="#fff" />
<rect x="363.36" y="474.1" width="1.1" height="4.5" fill="#fff" />
<rect x="367.875" y="466.8" width="3.8" height="5.8" fill="#fff" />
<rect x="369.275" y="474.1" width="1.1" height="4.5" fill="#fff" />
<rect x="373.79" y="466.8" width="3.8" height="5.8" fill="#fff" />
<rect x="375.19" y="474.1" width="1.1" height="4.5" fill="#fff" />
<rect x="379.705" y="466.8" width="3.8" height="5.8" fill="#fff" />
<rect x="381.105" y="474.1" width="1.1" height="4.5" fill="#fff" />
<rect x="385.62" y="466.8" width="3.8" height="5.8" fill="#fff" />
<rect x="387.02" y="474.1" width="1.1" height="4.5" fill="#fff" />
<rect x="391.535" y="466.8" width="3.8" height="5.8" fill="#fff" />
<rect x="392.935" y="474.1" width="1.1" height="4.5" fill="#fff" />
<rect x="397.45" y="466.8" width="3.8" height="5.8" fill="#fff" />
<rect x="398.85" y="474.1" width="1.1" height="4.5" fill="#fff" />
<rect x="403.365" y="466.8" width="3.8" height="5.8" fill="#fff" />
<rect x="404.765" y="474.1" width="1.1" height="4.5" fill="#fff" />
<rect x="409.28" y="466.8" width="3.8" height="5.8" fill="#fff" />
<rect x="410.68" y="474.1" width="1.1" height="4.5" fill="#fff" />
<rect x="415.195" y="466.8" width="3.8" height="5.8" fill="#fff" />
<rect x="416.595" y="474.1" width="1.1" height="4.5" fill="#fff" />
<rect x="421.11" y="466.8" width="3.8" height="5.8" fill="#fff" />
<rect x="422.51" y="474.1" width="1.1" height="4.5" fill="#fff" />
<rect x="427.025" y="466.8" width="3.8" height="5.8" fill="#fff" />
<rect x="428.425" y="474.1" width="1.1" height="4.5" fill="#fff" />
<rect x="432.94" y="466.8" width="3.8" height="5.8" fill="#fff" />
<rect x="434.34" y="474.1" width="1.1" height="4.5" fill="#fff" />
<rect x="438.855" y="466.8" width="3.8" height="5.8" fill="#fff" />
<rect x="440.255" y="474.1" width="1.1" height="4.5" fill="#fff" />
<rect x="444.77" y="466.8" width="3.8" height="5.8" fill="#fff" />
<rect x="446.17" y="474.1" width="1.1" height="4.5" fill="#fff" />
<rect x="450.685" y="466.8" width="3.8" height="5.8" fill="#fff" />
<rect x="452.085" y="474.1" width="1.1" height="4.5" fill="#fff" />
<rect x="456.6" y="466.8" width="3.8" height="5.8" fill="#fff" />
<rect x="458" y="474.1" width="1.1" height="4.5" fill="#fff" />
<rect x="462.515" y="466.8" width="3.8" height="5.8" fill="#fff" />
<rect x="463.915" y="474.1" width="1.1" height="4.5" fill="#fff" />
<rect x="468.43" y="466.8" width="3.8" height="5.8" fill="#fff" />
<rect x="469.83" y="474.1" width="1.1" height="4.5" fill="#fff" />
<rect x="474.345" y="466.8" width="3.8" height="5.8" fill="#fff" />
<rect x="475.745" y="474.1" width="1.1" height="4.5" fill="#fff" />
<rect x="480.26" y="466.8" width="3.8" height="5.8" fill="#fff" />
<rect x="481.66" y="474.1" width="1.1" height="4.5" fill="#fff" />
<rect x="486.175" y="466.8" width="3.8" height="5.8" fill="#fff" />
<rect x="487.575" y="474.1" width="1.1" height="4.5" fill="#fff" />
<rect x="492.09" y="466.8" width="3.8" height="5.8" fill="#fff" />
<rect x="493.49" y="474.1" width="1.1" height="4.5" fill="#fff" />
<rect x="498.005" y="466.8" width="3.8" height="5.8" fill="#fff" />
<rect x="499.405" y="474.1" width="1.1" height="4.5" fill="#fff" />
<rect x="502.8" y="466.8" width="1.2" height="6" fill="#fff" />
<rect x="409.6" y="471.8" width="1.2" height="6.8" fill="#fff" />
<rect x="421.4" y="471.8" width="1.2" height="6.8" fill="#fff" />
<rect x="462.8" y="471.8" width="1.2" height="6.8" fill="#fff" />
<rect x="492.7" y="471.8" width="1.2" height="6.8" fill="#fff" />
<rect x="509.5" y="465.8" width="9.5" height="1" fill="#000" />
<rect x="509.5" y="465.8" width="1" height="11" fill="#000" />
<rect x="511.7" y="472.8" width="5.6" height="1" fill="#000" />
<rect x="516.3" y="472.8" width="1" height="4" fill="#000" />
<rect x="516.3" y="475.8" width="2.7" height="1" fill="#000" />
<rect x="511.7" y="472.8" width="1" height="9" fill="#000" />
<rect x="509.5" y="475.8" width="2.2" height="1" fill="#000" />
<rect x="513.5" y="474.8" width="2.8" height="2" fill="#000" />
<rect x="519" y="464.3" width="3.2" height="17.5" fill="#000" />
<rect x="522.5" y="463.3" width="5.5" height="4" fill="#fff" stroke="#000" stroke-width="1"/>
<rect x="522.5" y="467.3" width="7" height="7.5" fill="#fff" stroke="#000" stroke-width="1"/>
<rect x="522.5" y="474.8" width="7" height="7.5" fill="#fff" stroke="#000" stroke-width="1"/>
<rect x="303.5" y="482.3" width="8.2" height="19.5" fill="#fff" stroke="#000" stroke-width="1"/>
<rect x="303" y="491.55" width="9" height="1" fill="#000" />
<rect x="303" y="481.8" width="219" height="1" fill="#000" />
<rect x="312.3" y="482.8" width="0.7" height="18.5" fill="#000" />
<rect x="313.8" y="483.3" width="1.8" height="18" fill="#000" />
<rect x="315" y="484.8" width="10" height="1" fill="#000" />
<rect x="324" y="484.8" width="1" height="11" fill="#000" />
<rect x="317.3" y="491.8" width="5.7" height="1" fill="#000" />
<rect x="317.3" y="491.8" width="1" height="4" fill="#000" />
<rect x="315" y="494.8" width="3.3" height="1" fill="#000" />
<rect x="322" y="491.8" width="1" height="9.5" fill="#000" />
<rect x="323" y="494.8" width="2" height="1" fill="#000" />
<rect x="322" y="500" width="200" height="1.4" fill="#000" />
<rect x="329.3" y="484.2" width="175.5" height="14.2" fill="#000" />
<rect x="331.2" y="485.8" width="2.3" height="5.8" fill="#fff" />
<rect x="335" y="485.8" width="2.4" height="5.8" fill="#fff" />
<rect x="338.3" y="485.8" width="3.8" height="5.8" fill="#fff" />
<rect x="339.7" y="493.1" width="1.1" height="4.5" fill="#fff" />
<rect x="344.215" y="485.8" width="3.8" height="5.8" fill="#fff" />
<rect x="345.615" y="493.1" width="1.1" height="4.5" fill="#fff" />
<rect x="350.13" y="485.8" width="3.8" height="5.8" fill="#fff" />
<rect x="351.53" y="493.1" width="1.1" height="4.5" fill="#fff" />
<rect x="356.045" y="485.8" width="3.8" height="5.8" fill="#fff" />
<rect x="357.445" y="493.1" width="1.1" height="4.5" fill="#fff" />
<rect x="361.96" y="485.8" width="3.8" height="5.8" fill="#fff" />
<rect x="363.36" y="493.1" width="1.1" height="4.5" fill="#fff" />
<rect x="367.875" y="485.8" width="3.8" height="5.8" fill="#fff" />
<rect x="369.275" y="493.1" width="1.1" height="4.5" fill="#fff" />
<rect x="373.79" y="485.8" width="3.8" height="5.8" fill="#fff" />
<rect x="375.19" y="493.1" width="1.1" height="4.5" fill="#fff" />
<rect x="379.705" y="485.8" width="3.8" height="5.8" fill="#fff" />
<rect x="381.105" y="493.1" width="1.1" height="4.5" fill="#fff" />
<rect x="385.62" y="485.8" width="3.8" height="5.8" fill="#fff" />
<rect x="387.02" y="493.1" width="1.1" height="4.5" fill="#fff" />
<rect x="391.535" y="485.8" width="3.8" height="5.8" fill="#fff" />
<rect x="392.935" y="493.1" width="1.1" height="4.5" fill="#fff" />
<rect x="397.45" y="485.8" width="3.8" height="5.8" fill="#fff" />
<rect x="398.85" y="493.1" width="1.1" height="4.5" fill="#fff" />
<rect x="403.365" y="485.8" width="3.8" height="5.8" fill="#fff" />
<rect x="404.765" y="493.1" width="1.1" height="4.5" fill="#fff" />
<rect x="409.28" y="485.8" width="3.8" height="5.8" fill="#fff" />
<rect x="410.68" y="493.1" width="1.1" height="4.5" fill="#fff" />
<rect x="415.195" y="485.8" width="3.8" height="5.8" fill="#fff" />
<rect x="416.595" y="493.1" width="1.1" height="4.5" fill="#fff" />
<rect x="421.11" y="485.8" width="3.8" height="5.8" fill="#fff" />
<rect x="422.51" y="493.1" width="1.1" height="4.5" fill="#fff" />
<rect x="427.025" y="485.8" width="3.8" height="5.8" fill="#fff" />
<rect x="428.425" y="493.1" width="1.1" height="4.5" fill="#fff" />
<rect x="432.94" y="485.8" width="3.8" height="5.8" fill="#fff" />
<rect x="434.34" y="493.1" width="1.1" height="4.5" fill="#fff" />
<rect x="438.855" y="485.8" width="3.8" height="5.8" fill="#fff" />
<rect x="440.255" y="493.1" width="1.1" height="4.5" fill="#fff" />
<rect x="444.77" y="485.8" width="3.8" height="5.8" fill="#fff" />
<rect x="446.17" y="493.1" width="1.1" height="4.5" fill="#fff" />
<rect x="450.685" y="485.8" width="3.8" height="5.8" fill="#fff" />
<rect x="452.085" y="493.1" width="1.1" height="4.5" fill="#fff" />
<rect x="456.6" y="485.8" width="3.8" height="5.8" fill="#fff" />
<rect x="458" y="493.1" width="1.1" height="4.5" fill="#fff" />
<rect x="462.515" y="485.8" width="3.8" height="5.8" fill="#fff" />
<rect x="463.915" y="493.1" width="1.1" height="4.5" fill="#fff" />
<rect x="468.43" y="485.8" width="3.8" height="5.8" fill="#fff" />
<rect x="469.83" y="493.1" width="1.1" height="4.5" fill="#fff" />
<rect x="474.345" y="485.8" width="3.8" height="5.8" fill="#fff" />
<rect x="475.745" y="493.1" width="1.1" height="4.5" fill="#fff" />
<rect x="480.26" y="485.8" width="3.8" height="5.8" fill="#fff" />
<rect x="481.66" y="493.1" width="1.1" height="4.5" fill="#fff" />
<rect x="486.175" y="485.8" width="3.8" height="5.8" fill="#fff" />
<rect x="487.575" y="493.1" width="1.1" height="4.5" fill="#fff" />
<rect x="492.09" y="485.8" width="3.8" height="5.8" fill="#fff" />
<rect x="493.49" y="493.1" width="1.1" height="4.5" fill="#fff" />
<rect x="498.005" y="485.8" width="3.8" height="5.8" fill="#fff" />
<rect x="499.405" y="493.1" width="1.1" height="4.5" fill="#fff" />
<rect x="502.8" y="485.8" width="1.2" height="6" fill="#fff" />
<rect x="409.6" y="490.8" width="1.2" height="6.8" fill="#fff" />
<rect x="421.4" y="490.8" width="1.2" height="6.8" fill="#fff" />
<rect x="462.8" y="490.8" width="1.2" height="6.8" fill="#fff" />
<rect x="492.7" y="490.8" width="1.2" height="6.8" fill="#fff" />
<rect x="509.5" y="484.8" width="9.5" height="1" fill="#000" />
<rect x="509.5" y="484.8" width="1" height="11" fill="#000" />
<rect x="511.7" y="491.8" width="5.6" height="1" fill="#000" />
<rect x="516.3" y="491.8" width="1" height="4" fill="#000" />
<rect x="516.3" y="494.8" width="2.7" height="1" fill="#000" />
<rect x="511.7" y="491.8" width="1" height="9.5" fill="#000" />
<rect x="509.5" y="494.8" width="2.2" height="1" fill="#000" />
<rect x="513.5" y="493.8" width="2.8" height="2" fill="#000" />
<rect x="519" y="483.3" width="3.2" height="18" fill="#000" />
<rect x="522.5" y="482.3" width="5.5" height="4" fill="#fff" stroke="#000" stroke-width="1"/>
<rect x="522.5" y="486.3" width="7" height="7.75" fill="#fff" stroke="#000" stroke-width="1"/>
<rect x="522.5" y="494.05" width="7" height="7.75" fill="#fff" stroke="#000" stroke-width="1"/>
<rect x="303.5" y="501.8" width="8.2" height="19.7" fill="#fff" stroke="#000" stroke-width="1"/>
<rect x="303" y="511.15" width="9" height="1" fill="#000" />
<rect x="303" y="501.3" width="219" height="1" fill="#000" />
<rect x="312.3" y="502.3" width="0.7" height="18.7" fill="#000" />
<rect x="313.8" y="502.8" width="1.8" height="18.2" fill="#000" />
<rect x="315" y="504.3" width="10" height="1" fill="#000" />
<rect x="324" y="504.3" width="1" height="11" fill="#000" />
<rect x="317.3" y="511.3" width="5.7" height="1" fill="#000" />
<rect x="317.3" y="511.3" width="1" height="4" fill="#000" />
<rect x="315" y="514.3" width="3.3" height="1" fill="#000" />
<rect x="322" y="511.3" width="1" height="9.7" fill="#000" />
<rect x="323" y="514.3" width="2" height="1" fill="#000" />
<rect x="322" y="519.7" width="200" height="1.4" fill="#000" />
<rect x="329.3" y="503.7" width="175.5" height="14.2" fill="#000" />
<rect x="331.2" y="505.3" width="2.3" height="5.8" fill="#fff" />
<rect x="335" y="505.3" width="2.4" height="5.8" fill="#fff" />
<rect x="338.3" y="505.3" width="3.8" height="5.8" fill="#fff" />
<rect x="339.7" y="512.6" width="1.1" height="4.5" fill="#fff" />
<rect x="344.215" y="505.3" width="3.8" height="5.8" fill="#fff" />
<rect x="345.615" y="512.6" width="1.1" height="4.5" fill="#fff" />
<rect x="350.13" y="505.3" width="3.8" height="5.8" fill="#fff" />
<rect x="351.53" y="512.6" width="1.1" height="4.5" fill="#fff" />
<rect x="356.045" y="505.3" width="3.8" height="5.8" fill="#fff" />
<rect x="357.445" y="512.6" width="1.1" height="4.5" fill="#fff" />
<rect x="361.96" y="505.3" width="3.8" height="5.8" fill="#fff" />
<rect x="363.36" y="512.6" width="1.1" height="4.5" fill="#fff" />
<rect x="367.875" y="505.3" width="3.8" height="5.8" fill="#fff" />
<rect x="369.275" y="512.6" width="1.1" height="4.5" fill="#fff" />
<rect x="373.79" y="505.3" width="3.8" height="5.8" fill="#fff" />
<rect x="375.19" y="512.6" width="1.1" height="4.5" fill="#fff" />
<rect x="379.705" y="505.3" width="3.8" height="5.8" fill="#fff" />
<rect x="381.105" y="512.6" width="1.1" height="4.5" fill="#fff" />
<rect x="385.62" y="505.3" width="3.8" height="5.8" fill="#fff" />
<rect x="387.02" y="512.6" width="1.1" height="4.5" fill="#fff" />
<rect x="391.535" y="505.3" width="3.8" height="5.8" fill="#fff" />
<rect x="392.935" y="512.6" width="1.1" height="4.5" fill="#fff" />
<rect x="397.45" y="505.3" width="3.8" height="5.8" fill="#fff" />
<rect x="398.85" y="512.6" width="1.1" height="4.5" fill="#fff" />
<rect x="403.365" y="505.3" width="3.8" height="5.8" fill="#fff" />
<rect x="404.765" y="512.6" width="1.1" height="4.5" fill="#fff" />
<rect x="409.28" y="505.3" width="3.8" height="5.8" fill="#fff" />
<rect x="410.68" y="512.6" width="1.1" height="4.5" fill="#fff" />
<rect x="415.195" y="505.3" width="3.8" height="5.8" fill="#fff" />
<rect x="416.595" y="512.6" width="1.1" height="4.5" fill="#fff" />
<rect x="421.11" y="505.3" width="3.8" height="5.8" fill="#fff" />
<rect x="422.51" y="512.6" width="1.1" height="4.5" fill="#fff" />
<rect x="427.025" y="505.3" width="3.8" height="5.8" fill="#fff" />
<rect x="428.425" y="512.6" width="1.1" height="4.5" fill="#fff" />
<rect x="432.94" y="505.3" width="3.8" height="5.8" fill="#fff" />
<rect x="434.34" y="512.6" width="1.1" height="4.5" fill="#fff" />
<rect x="438.855" y="505.3" width="3.8" height="5.8" fill="#fff" />
<rect x="440.255" y="512.6" width="1.1" height="4.5" fill="#fff" />
<rect x="444.77" y="505.3" width="3.8" height="5.8" fill="#fff" />
<rect x="446.17" y="512.6" width="1.1" height="4.5" fill="#fff" />
<rect x="450.685" y="505.3" width="3.8" height="5.8" fill="#fff" />
<rect x="452.085" y="512.6" width="1.1" height="4.5" fill="#fff" />
<rect x="456.6" y="505.3" width="3.8" height="5.8" fill="#fff" />
<rect x="458" y="512.6" width="1.1" height="4.5" fill="#fff" />
<rect x="462.515" y="505.3" width="3.8" height="5.8" fill="#fff" />
<rect x="463.915" y="512.6" width="1.1" height="4.5" fill="#fff" />
<rect x="468.43" y="505.3" width="3.8" height="5.8" fill="#fff" />
<rect x="469.83" y="512.6" width="1.1" height="4.5" fill="#fff" />
<rect x="474.345" y="505.3" width="3.8" height="5.8" fill="#fff" />
<rect x="475.745" y="512.6" width="1.1" height="4.5" fill="#fff" />
<rect x="480.26" y="505.3" width="3.8" height="5.8" fill="#fff" />
<rect x="481.66" y="512.6" width="1.1" height="4.5" fill="#fff" />
<rect x="486.175" y="505.3" width="3.8" height="5.8" fill="#fff" />
<rect x="487.575" y="512.6" width="1.1" height="4.5" fill="#fff" />
<rect x="492.09" y="505.3" width="3.8" height="5.8" fill="#fff" />
<rect x="493.49" y="512.6" width="1.1" height="4.5" fill="#fff" />
<rect x="498.005" y="505.3" width="3.8" height="5.8" fill="#fff" />
<rect x="499.405" y="512.6" width="1.1" height="4.5" fill="#fff" />
<rect x="502.8" y="505.3" width="1.2" height="6" fill="#fff" />
<rect x="409.6" y="510.3" width="1.2" height="6.8" fill="#fff" />
<rect x="421.4" y="510.3" width="1.2" height="6.8" fill="#fff" />
<rect x="462.8" y="510.3" width="1.2" height="6.8" fill="#fff" />
<rect x="492.7" y="510.3" width="1.2" height="6.8" fill="#fff" />
<rect x="509.5" y="504.3" width="9.5" height="1" fill="#000" />
<rect x="509.5" y="504.3" width="1" height="11" fill="#000" />
<rect x="511.7" y="511.3" width="5.6" height="1" fill="#000" />
<rect x="516.3" y="511.3" width="1" height="4" fill="#000" />
<rect x="516.3" y="514.3" width="2.7" height="1" fill="#000" />
<rect x="511.7" y="511.3" width="1" height="9.7" fill="#000" />
<rect x="509.5" y="514.3" width="2.2" height="1" fill="#000" />
<rect x="513.5" y="513.3" width="2.8" height="2" fill="#000" />
<rect x="519" y="502.8" width="3.2" height="18.2" fill="#000" />
<rect x="522.5" y="501.8" width="5.5" height="4" fill="#fff" stroke="#000" stroke-width="1"/>
<rect x="522.5" y="505.8" width="7" height="7.85" fill="#fff" stroke="#000" stroke-width="1"/>
<rect x="522.5" y="513.65" width="7" height="7.85" fill="#fff" stroke="#000" stroke-width="1"/>
<rect x="303" y="441" width="227" height="1.3" fill="#000" />
<rect x="303" y="520.5" width="227" height="1.3" fill="#000" />
<rect x="388.8" y="396" width="55.2" height="14" rx="1" fill="#fff" stroke="#000" stroke-width="1"/>
<text transform="translate(395,407.7) scale(0.68,1)" text-anchor="middle" font-size="13.6">B</text>
<text transform="translate(404.8,407.7) scale(0.68,1)" text-anchor="middle" font-size="13.6">A</text>
<text transform="translate(413.6,407.7) scale(0.68,1)" text-anchor="middle" font-size="13.6">N</text>
<text transform="translate(423,407.7) scale(0.68,1)" text-anchor="middle" font-size="13.6">K</text>
<text transform="translate(436.5,407.7) scale(0.68,1)" text-anchor="middle" font-size="13.6">0</text>
<rect x="388.8" y="475" width="55.2" height="14" rx="1" fill="#fff" stroke="#000" stroke-width="1"/>
<text transform="translate(395,486.7) scale(0.68,1)" text-anchor="middle" font-size="13.6">B</text>
<text transform="translate(404.8,486.7) scale(0.68,1)" text-anchor="middle" font-size="13.6">A</text>
<text transform="translate(413.6,486.7) scale(0.68,1)" text-anchor="middle" font-size="13.6">N</text>
<text transform="translate(423,486.7) scale(0.68,1)" text-anchor="middle" font-size="13.6">K</text>
<text transform="translate(436.5,486.7) scale(0.68,1)" text-anchor="middle" font-size="13.6">1</text>
<rect x="575" y="436" width="41" height="87.5" fill="#000" />
<rect x="589" y="522" width="12" height="2" fill="#fff" />
<rect x="609" y="521.5" width="5.5" height="1" fill="#fff" />
<rect x="573.2" y="472" width="44.4" height="16.7" fill="#000" rx="2"/>
<rect x="575" y="473" width="41" height="14.7" fill="#fff" />
<text transform="translate(583.5,483.5) scale(0.68,1)" text-anchor="middle" font-size="13.5">B</text>
<text transform="translate(589.8,483.5) scale(0.68,1)" text-anchor="middle" font-size="13.5">I</text>
<text transform="translate(597,483.5) scale(0.68,1)" text-anchor="middle" font-size="13.5">O</text>
<text transform="translate(606.2,483.5) scale(0.68,1)" text-anchor="middle" font-size="13.5">S</text>
<rect x="632" y="398" width="43" height="127" fill="#000" />
<rect x="648.5" y="523.5" width="11.5" height="2.5" fill="#fff" />
<rect x="634" y="400.5" width="1.2" height="4" fill="#fff" />
<rect x="634" y="406.6" width="1.2" height="4" fill="#fff" />
<rect x="634" y="412.7" width="1.2" height="4" fill="#fff" />
<rect x="634" y="418.8" width="1.2" height="4" fill="#fff" />
<rect x="634" y="424.9" width="1.2" height="4" fill="#fff" />
<rect x="634" y="431" width="1.2" height="4" fill="#fff" />
<rect x="634" y="437.1" width="1.2" height="4" fill="#fff" />
<rect x="634" y="443.2" width="1.2" height="4" fill="#fff" />
<rect x="634" y="449.3" width="1.2" height="4" fill="#fff" />
<rect x="634" y="455.4" width="1.2" height="4" fill="#fff" />
<rect x="634" y="461.5" width="1.2" height="4" fill="#fff" />
<rect x="634" y="467.6" width="1.2" height="4" fill="#fff" />
<rect x="634" y="473.7" width="1.2" height="4" fill="#fff" />
<rect x="634" y="479.8" width="1.2" height="4" fill="#fff" />
<rect x="634" y="485.9" width="1.2" height="4" fill="#fff" />
<rect x="634" y="492" width="1.2" height="4" fill="#fff" />
<rect x="634" y="498.1" width="1.2" height="4" fill="#fff" />
<rect x="634" y="504.2" width="1.2" height="4" fill="#fff" />
<rect x="634" y="510.3" width="1.2" height="4" fill="#fff" />
<rect x="634" y="516.4" width="1.2" height="4" fill="#fff" />
<rect x="638.9" y="454" width="28.3" height="13.8" fill="#fff" />
<text transform="translate(644.1,464.6) scale(0.68,1)" text-anchor="middle" font-size="13.3">K</text>
<text transform="translate(653.4,464.6) scale(0.68,1)" text-anchor="middle" font-size="13.3">B</text>
<text transform="translate(661.6,464.6) scale(0.68,1)" text-anchor="middle" font-size="13.3">D</text>
<rect x="691.5" y="369.5" width="24" height="111" fill="#fff" stroke="#000" stroke-width="1"/>
<rect x="694.5" y="369.5" width="7" height="3" fill="#000" />
<rect x="696" y="369.5" width="4" height="1.7" fill="#fff" />
<rect x="694.5" y="478" width="7" height="2.5" fill="#000" />
<rect x="696" y="479.2" width="4" height="1.8" fill="#fff" />
<rect x="694.7" y="375.5" width="6.6" height="6.2" fill="#fff" stroke="#000" stroke-width="1"/>
<rect x="694.7" y="384.77" width="6.6" height="6.2" fill="#fff" stroke="#000" stroke-width="1"/>
<rect x="694.7" y="394.04" width="6.6" height="6.2" fill="#fff" stroke="#000" stroke-width="1"/>
<rect x="694.7" y="403.31" width="6.6" height="6.2" fill="#fff" stroke="#000" stroke-width="1"/>
<rect x="694.7" y="412.58" width="6.6" height="6.2" fill="#fff" stroke="#000" stroke-width="1"/>
<rect x="694.7" y="421.85" width="6.6" height="6.2" fill="#fff" stroke="#000" stroke-width="1"/>
<rect x="694.7" y="431.12" width="6.6" height="6.2" fill="#fff" stroke="#000" stroke-width="1"/>
<rect x="694.7" y="440.39" width="6.6" height="6.2" fill="#fff" stroke="#000" stroke-width="1"/>
<rect x="694.7" y="449.66" width="6.6" height="6.2" fill="#fff" stroke="#000" stroke-width="1"/>
<rect x="694.7" y="458.93" width="6.6" height="6.2" fill="#fff" stroke="#000" stroke-width="1"/>
<rect x="694.7" y="469.9" width="6.6" height="6.2" fill="#fff" stroke="#000" stroke-width="1"/>
<rect x="703.3" y="371" width="1.9" height="7" fill="#000" />
<rect x="709" y="371.5" width="2.6" height="6" fill="#fff" stroke="#000" stroke-width="1"/>
<rect x="707.3" y="374" width="1.7" height="1.6" fill="#000" />
<rect x="703.3" y="380.3" width="1.9" height="7" fill="#000" />
<rect x="709" y="380.8" width="2.6" height="6" fill="#fff" stroke="#000" stroke-width="1"/>
<rect x="707.3" y="383.3" width="1.7" height="1.6" fill="#000" />
<rect x="703.3" y="389.6" width="1.9" height="7" fill="#000" />
<rect x="709" y="390.1" width="2.6" height="6" fill="#fff" stroke="#000" stroke-width="1"/>
<rect x="707.3" y="392.6" width="1.7" height="1.6" fill="#000" />
<rect x="703.3" y="398.9" width="1.9" height="7" fill="#000" />
<rect x="709" y="399.4" width="2.6" height="6" fill="#fff" stroke="#000" stroke-width="1"/>
<rect x="707.3" y="401.9" width="1.7" height="1.6" fill="#000" />
<rect x="703.3" y="408.2" width="1.9" height="7" fill="#000" />
<rect x="709" y="408.7" width="2.6" height="6" fill="#fff" stroke="#000" stroke-width="1"/>
<rect x="707.3" y="411.2" width="1.7" height="1.6" fill="#000" />
<rect x="703.3" y="417.5" width="1.9" height="7" fill="#000" />
<rect x="709" y="418" width="2.6" height="6" fill="#fff" stroke="#000" stroke-width="1"/>
<rect x="707.3" y="420.5" width="1.7" height="1.6" fill="#000" />
<rect x="703.3" y="426.8" width="1.9" height="7" fill="#000" />
<rect x="709" y="427.3" width="2.6" height="6" fill="#fff" stroke="#000" stroke-width="1"/>
<rect x="707.3" y="429.8" width="1.7" height="1.6" fill="#000" />
<rect x="703.3" y="436.1" width="1.9" height="7" fill="#000" />
<rect x="709" y="436.6" width="2.6" height="6" fill="#fff" stroke="#000" stroke-width="1"/>
<rect x="707.3" y="439.1" width="1.7" height="1.6" fill="#000" />
<rect x="703.3" y="445.4" width="1.9" height="7" fill="#000" />
<rect x="709" y="445.9" width="2.6" height="6" fill="#fff" stroke="#000" stroke-width="1"/>
<rect x="707.3" y="448.4" width="1.7" height="1.6" fill="#000" />
<rect x="703.3" y="454.7" width="1.9" height="7" fill="#000" />
<rect x="709" y="455.2" width="2.6" height="6" fill="#fff" stroke="#000" stroke-width="1"/>
<rect x="707.3" y="457.7" width="1.7" height="1.6" fill="#000" />
<rect x="703.3" y="464" width="1.9" height="7" fill="#000" />
<rect x="709" y="464.5" width="2.6" height="6" fill="#fff" stroke="#000" stroke-width="1"/>
<rect x="707.3" y="467" width="1.7" height="1.6" fill="#000" />
<rect x="703.3" y="473.3" width="1.9" height="6.7" fill="#000" />
<rect x="709" y="473.8" width="2.6" height="6" fill="#fff" stroke="#000" stroke-width="1"/>
<rect x="707.3" y="476.3" width="1.7" height="1.6" fill="#000" />
<rect x="707.3" y="370" width="1" height="110" fill="#000" />
<rect x="748" y="435" width="31" height="37.8" fill="#000" />
<rect x="772" y="431" width="7" height="46" fill="#000" />
<rect x="775" y="428.8" width="5" height="50.2" fill="#000" />
<rect x="741.5" y="444.2" width="6.5" height="6.5" fill="#fff" stroke="#000" stroke-width="1"/>
<rect x="741.5" y="455.2" width="6.5" height="8.3" fill="#fff" stroke="#000" stroke-width="1"/>
<rect x="745" y="442" width="3.5" height="23.5" fill="#fff" stroke="#000" stroke-width="0.8"/>
<g shape-rendering="geometricPrecision">
<rect x="75" y="34" width="7" height="13.8" fill="#000" />
<rect x="76" y="35" width="5" height="1.2" fill="#fff" />
<rect x="76" y="40.1" width="5" height="1.6" fill="#fff" />
<rect x="76" y="45.7" width="5" height="1.2" fill="#fff" />
<rect x="83" y="34" width="6.7" height="13.8" fill="#000" />
<rect x="84" y="35" width="4.7" height="1.2" fill="#fff" />
<rect x="84" y="40.1" width="4.7" height="1.6" fill="#fff" />
<rect x="84" y="45.7" width="4.7" height="1.2" fill="#fff" />
<rect x="91" y="34" width="7" height="13.8" fill="#000" />
<rect x="92" y="35" width="5" height="1.2" fill="#fff" />
<rect x="92" y="40.1" width="5" height="1.6" fill="#fff" />
<rect x="92" y="45.7" width="5" height="1.2" fill="#fff" />
<rect x="92" y="35" width="0.9" height="11.9" fill="#fff" />
<rect x="75" y="78.1" width="7" height="13.8" fill="#000" />
<rect x="76" y="79.1" width="5" height="1.2" fill="#fff" />
<rect x="76" y="84.2" width="5" height="1.6" fill="#fff" />
<rect x="76" y="89.8" width="5" height="1.2" fill="#fff" />
<rect x="83.9" y="79" width="7.1" height="14" fill="#000" />
<rect x="84.9" y="80" width="5.1" height="1.2" fill="#fff" />
<rect x="84.9" y="85.2" width="5.1" height="1.6" fill="#fff" />
<rect x="84.9" y="90.9" width="5.1" height="1.2" fill="#fff" />
<rect x="84.9" y="80" width="0.9" height="12.1" fill="#fff" />
<rect x="65.2" y="109" width="6.8" height="18.7" fill="#000" />
<rect x="66.5" y="114.583" width="4.5" height="1.3" fill="#fff" />
<rect x="66.5" y="120.817" width="4.5" height="1.3" fill="#fff" />
<rect x="66.3" y="110" width="4.7" height="4.6" fill="#fff" />
<rect x="67.6" y="111.2" width="2.2" height="2.4" fill="#000" />
<rect x="68.2" y="111.8" width="1" height="1.2" fill="#fff" />
<rect x="82" y="110" width="6.8" height="29.8" fill="#000" />
<rect x="83.3" y="115.31" width="4.5" height="1.3" fill="#fff" />
<rect x="83.3" y="121.27" width="4.5" height="1.3" fill="#fff" />
<rect x="83.3" y="127.23" width="4.5" height="1.3" fill="#fff" />
<rect x="83.3" y="133.19" width="4.5" height="1.3" fill="#fff" />
<rect x="84.2" y="112" width="2.6" height="2.6" fill="#fff" />
<rect x="162.2" y="98.6" width="18.6" height="12.6" fill="#000" />
<rect x="163.2" y="99.6" width="16.6" height="10.6" fill="#fff" />
<rect x="163.4" y="99.8" width="4.9" height="4.3" fill="#000" />
<rect x="163.4" y="105.8" width="4.9" height="4.4" fill="#000" />
<rect x="169.7" y="99.8" width="4.6" height="4.3" fill="#000" />
<rect x="169.7" y="105.8" width="4.6" height="4.4" fill="#000" />
<rect x="175.7" y="99.8" width="3.8" height="4.3" fill="#000" />
<rect x="175.7" y="105.8" width="3.8" height="4.4" fill="#000" />
<rect x="176.8" y="106.9" width="1.6" height="2.2" fill="#fff" />
<rect x="59" y="158.1" width="12.8" height="24.5" fill="#000" />
<rect x="60" y="159.1" width="10.8" height="22.5" fill="#fff" />
<rect x="60.3" y="159.7" width="4.7" height="4.3" fill="#000" />
<rect x="60.9" y="160.9" width="3.1" height="1.9" fill="#fff" />
<rect x="60.3" y="165.5" width="4.7" height="4.3" fill="#000" />
<rect x="60.3" y="171" width="4.7" height="4.2" fill="#000" />
<rect x="60.3" y="176.7" width="4.7" height="4.3" fill="#000" />
<rect x="66.2" y="159.7" width="3.8" height="4.3" fill="#000" />
<rect x="66.2" y="165.5" width="3.8" height="4.3" fill="#000" />
<rect x="66.2" y="171" width="3.8" height="4.2" fill="#000" />
<rect x="66.2" y="176.7" width="3.8" height="4.3" fill="#000" />
<rect x="83" y="156" width="7" height="25.8" fill="#000" />
<rect x="84" y="157" width="5" height="23.8" fill="#fff" />
<rect x="84.3" y="157.8" width="3.7" height="4.2" fill="#000" />
<rect x="85.4" y="158.9" width="1.5" height="2" fill="#fff" />
<rect x="84.3" y="164" width="3.7" height="3.8" fill="#000" />
<rect x="84.3" y="169.8" width="3.7" height="4.2" fill="#000" />
<rect x="84.3" y="175.2" width="3.7" height="5.4" fill="#000" />
<rect x="64.1" y="231.1" width="6.9" height="18.7" fill="#000" />
<rect x="65" y="232" width="5.1" height="5.8" fill="#fff" />
<rect x="65.7" y="232.8" width="4.1" height="4.1" fill="#000" />
<rect x="66.6" y="233.7" width="2.3" height="2.3" fill="#fff" />
<rect x="65" y="237.8" width="5.1" height="0.7" fill="#fff" />
<rect x="65" y="242.9" width="5.1" height="1" fill="#fff" />
<rect x="69.4" y="297.9" width="6.5" height="18.7" fill="#000" />
<rect x="70.4" y="298.9" width="4.5" height="5.2" fill="#fff" />
<rect x="71.6" y="300" width="2.2" height="2.8" fill="#000" />
<rect x="72.2" y="300.7" width="1" height="1.4" fill="#fff" />
<rect x="70.4" y="305.5" width="4.5" height="1.1" fill="#fff" />
<rect x="70.4" y="309.9" width="4.5" height="1.1" fill="#fff" />
<rect x="62.9" y="335" width="13" height="13" fill="#000" />
<rect x="64" y="341.5" width="11.4" height="1" fill="#fff" />
<rect x="69.4" y="336" width="1" height="11.5" fill="#fff" />
<rect x="71.1" y="343.2" width="3.5" height="3.6" fill="#fff" />
<rect x="72.2" y="344.3" width="1.4" height="1.5" fill="#000" />
<rect x="297" y="331.2" width="20" height="19.2" fill="#000" />
<rect x="298" y="332.2" width="18" height="17.2" fill="#fff" />
<rect x="298.5" y="332.6" width="5.4" height="5.2" fill="#000" />
<rect x="298.5" y="338.9" width="5.4" height="4.9" fill="#000" />
<rect x="298.5" y="344.8" width="5.4" height="4.8" fill="#000" />
<rect x="305" y="332.6" width="4.9" height="5.2" fill="#000" />
<rect x="305" y="338.9" width="4.9" height="4.9" fill="#000" />
<rect x="305" y="344.8" width="4.9" height="4.8" fill="#000" />
<rect x="311" y="332.6" width="5" height="5.2" fill="#000" />
<rect x="311" y="338.9" width="5" height="4.9" fill="#000" />
<rect x="311" y="344.8" width="5" height="4.8" fill="#000" />
<rect x="312.1" y="345.9" width="2.8" height="2.6" fill="#fff" />
<rect x="333" y="319" width="18.7" height="12.4" fill="#000" />
<rect x="334" y="320" width="16.7" height="10.4" fill="#fff" />
<rect x="335.1" y="321.2" width="3.6" height="3.6" fill="#000" />
<rect x="335.1" y="326.1" width="3.6" height="4.3" fill="#000" />
<rect x="340.4" y="321.2" width="4" height="3.6" fill="#000" />
<rect x="340.4" y="326.1" width="4" height="4.3" fill="#000" />
<rect x="345.8" y="321.2" width="3.9" height="3.6" fill="#000" />
<rect x="345.8" y="326.1" width="3.9" height="4.3" fill="#000" />
<rect x="346.9" y="327.2" width="1.7" height="2.1" fill="#fff" />
<rect x="711.8" y="165" width="13.1" height="6.5" fill="#000" />
<rect x="718.8" y="166" width="1.4" height="4.6" fill="#fff" />
<rect x="722" y="166" width="1.4" height="4.6" fill="#fff" />
<rect x="712" y="219" width="25" height="7" fill="#000" />
<rect x="713" y="224" width="23" height="1" fill="#fff" />
<rect x="713" y="220" width="1" height="5" fill="#fff" />
<rect x="718" y="220" width="1" height="5" fill="#fff" />
<rect x="724" y="220" width="1" height="5" fill="#fff" />
<rect x="729" y="220" width="2" height="5" fill="#fff" />
<rect x="735" y="220" width="1" height="5" fill="#fff" />
<rect x="715" y="221" width="2" height="2" fill="#fff" />
<rect x="711" y="344.3" width="25" height="6.2" fill="#000" />
<rect x="712" y="348.5" width="23" height="1" fill="#fff" />
<rect x="712" y="345.3" width="1" height="4.2" fill="#fff" />
<rect x="717" y="345.3" width="1" height="4.2" fill="#fff" />
<rect x="723" y="345.3" width="1" height="4.2" fill="#fff" />
<rect x="728" y="345.3" width="2" height="4.2" fill="#fff" />
<rect x="734" y="345.3" width="1" height="4.2" fill="#fff" />
<rect x="714" y="346.3" width="2" height="1.2" fill="#fff" />
<rect x="613" y="387" width="7" height="12.8" fill="#000" />
<rect x="614.2" y="392.8" width="4.3" height="0.9" fill="#fff" />
<rect x="617.6" y="388.2" width="0.9" height="10.3" fill="#fff" />
</g>
<text transform="translate(74.6,165.9) scale(0.86,1)" text-anchor="middle" font-size="11.9">2</text>
<text transform="translate(54.3,185.7) scale(0.86,1)" text-anchor="middle" font-size="11.9">7</text>
<text transform="translate(73.5,185.7) scale(0.86,1)" text-anchor="middle" font-size="11.9">8</text>
<text transform="translate(300.4,327.6) scale(0.86,1)" text-anchor="middle" font-size="11.9">9</text>
<text transform="translate(312.4,327.6) scale(0.86,1)" text-anchor="middle" font-size="11.9">7</text>
<text transform="translate(293.6,343.4) scale(0.86,1)" text-anchor="middle" font-size="11.9">6</text>
<text transform="translate(318.8,343.4) scale(0.86,1)" text-anchor="middle" font-size="11.9">4</text>
<text transform="translate(300.6,359.4) scale(0.86,1)" text-anchor="middle" font-size="11.9">3</text>
<text transform="translate(335.6,315.6) scale(0.86,1)" text-anchor="middle" font-size="11.9">6</text>
<text transform="translate(348.5,315.6) scale(0.86,1)" text-anchor="middle" font-size="11.9">4</text>
<text transform="translate(335.7,340.6) scale(0.86,1)" text-anchor="middle" font-size="11.9">3</text>
<polygon points="94.8,21 87,30 99.5,22" fill="#fff" stroke="#000" stroke-width="2.1" stroke-linejoin="round"/>
<polygon points="90.9,25.5 87,30 93.25,26" fill="#000" stroke="#000" stroke-width="2.1" stroke-linejoin="round"/>
<rect x="95" y="4.5" width="32.8" height="17.8" rx="3" fill="#000"/>
<rect x="97" y="6.2" width="28.3" height="14" rx="1.2" fill="#fff"/>
<polygon points="96.2378,21.3059 98.0622,21.6941 101.279,19.8657 99.4545,19.4775" fill="#fff"/>
<text transform="translate(104.95,17.8) scale(0.84,1)" text-anchor="middle" font-size="12.8">P</text>
<text transform="translate(113.25,17.8) scale(0.84,1)" text-anchor="middle" font-size="12.8">1</text>
<text transform="translate(119.55,17.8) scale(0.84,1)" text-anchor="middle" font-size="12.8">7</text>
<polygon points="67,57.5 78,49.5 72,61" fill="#fff" stroke="#000" stroke-width="2.1" stroke-linejoin="round"/>
<polygon points="72.5,53.5 78,49.5 75,55.25" fill="#000" stroke="#000" stroke-width="2.1" stroke-linejoin="round"/>
<rect x="37.5" y="57" width="35" height="17.5" rx="3" fill="#000"/>
<rect x="39.5" y="58.7" width="30.5" height="13.7" rx="1.2" fill="#fff"/>
<polygon points="68.2043,58.343 70.7957,60.157 67.4194,61.6705 64.828,59.8565" fill="#fff"/>
<text transform="translate(48.75,70.15) scale(0.84,1)" text-anchor="middle" font-size="12.8">P</text>
<text transform="translate(56.75,70.15) scale(0.84,1)" text-anchor="middle" font-size="12.8">2</text>
<text transform="translate(63.05,70.15) scale(0.84,1)" text-anchor="middle" font-size="12.8">1</text>
<polygon points="106,56 94.5,49.6 102.5,60" fill="#fff" stroke="#000" stroke-width="2.1" stroke-linejoin="round"/>
<polygon points="100.25,52.8 94.5,49.6 98.5,54.8" fill="#000" stroke="#000" stroke-width="2.1" stroke-linejoin="round"/>
<rect x="102" y="55.5" width="33.8" height="18" rx="3" fill="#000"/>
<rect x="104" y="57.2" width="29.3" height="14.2" rx="1.2" fill="#fff"/>
<polygon points="105.032,57.1063 103.468,58.8937 106.85,60.3943 108.414,58.6069" fill="#fff"/>
<text transform="translate(112.45,68.9) scale(0.84,1)" text-anchor="middle" font-size="12.8">P</text>
<text transform="translate(120.75,68.9) scale(0.84,1)" text-anchor="middle" font-size="12.8">1</text>
<text transform="translate(127.05,68.9) scale(0.84,1)" text-anchor="middle" font-size="12.8">8</text>
<polygon points="63.5,90.8 72.8,84.6 67.5,94" fill="#fff" stroke="#000" stroke-width="2.1" stroke-linejoin="round"/>
<polygon points="68.15,87.7 72.8,84.6 70.15,89.3" fill="#000" stroke="#000" stroke-width="2.1" stroke-linejoin="round"/>
<rect x="33.8" y="90.3" width="34.2" height="18" rx="3" fill="#000"/>
<rect x="35.8" y="92" width="29.7" height="14.2" rx="1.2" fill="#fff"/>
<polygon points="64.6479,91.7183 66.3521,93.0817 63.0069,94.6627 61.3026,93.2993" fill="#fff"/>
<text transform="translate(44.45,103.7) scale(0.84,1)" text-anchor="middle" font-size="12.8">P</text>
<text transform="translate(52.75,103.7) scale(0.84,1)" text-anchor="middle" font-size="12.8">1</text>
<text transform="translate(59.05,103.7) scale(0.84,1)" text-anchor="middle" font-size="12.8">6</text>
<polygon points="104,93.8 94,86.8 100.4,97.5" fill="#fff" stroke="#000" stroke-width="2.1" stroke-linejoin="round"/>
<polygon points="99,90.3 94,86.8 97.2,92.15" fill="#000" stroke="#000" stroke-width="2.1" stroke-linejoin="round"/>
<rect x="99.9" y="93.3" width="33.9" height="17.3" rx="3" fill="#000"/>
<rect x="101.9" y="95" width="29.4" height="13.5" rx="1.2" fill="#fff"/>
<polygon points="102.975,94.8536 101.425,96.4464 104.824,97.9081 106.374,96.3153" fill="#fff"/>
<text transform="translate(110.4,106.35) scale(0.84,1)" text-anchor="middle" font-size="12.8">P</text>
<text transform="translate(118.7,106.35) scale(0.84,1)" text-anchor="middle" font-size="12.8">1</text>
<text transform="translate(125,106.35) scale(0.84,1)" text-anchor="middle" font-size="12.8">5</text>
<polygon points="48.5,114.5 65,118.5 48.5,122" fill="#fff" stroke="#000" stroke-width="2.1" stroke-linejoin="round"/>
<polygon points="56.75,116.5 65,118.5 56.75,120.25" fill="#000" stroke="#000" stroke-width="2.1" stroke-linejoin="round"/>
<rect x="14.4" y="110.3" width="34.8" height="18.2" rx="3" fill="#000"/>
<rect x="16.4" y="112" width="30.3" height="14.4" rx="1.2" fill="#fff"/>
<polygon points="48.5,115.97 48.5,120.53 44.8087,120.784 44.8087,116.224" fill="#fff"/>
<text transform="translate(25.55,123.8) scale(0.84,1)" text-anchor="middle" font-size="12.8">P</text>
<text transform="translate(33.55,123.8) scale(0.84,1)" text-anchor="middle" font-size="12.8">2</text>
<text transform="translate(40.85,123.8) scale(0.84,1)" text-anchor="middle" font-size="12.8">0</text>
<polygon points="69.8,139 80.3,131.4 73.3,142" fill="#fff" stroke="#000" stroke-width="2.1" stroke-linejoin="round"/>
<polygon points="75.05,135.2 80.3,131.4 76.8,136.7" fill="#000" stroke="#000" stroke-width="2.1" stroke-linejoin="round"/>
<rect x="40.1" y="138.3" width="33.9" height="18.1" rx="3" fill="#000"/>
<rect x="42.1" y="140" width="29.4" height="14.3" rx="1.2" fill="#fff"/>
<polygon points="70.9161,139.957 72.1839,141.043 68.8384,142.624 67.5706,141.537" fill="#fff"/>
<text transform="translate(50.6,151.75) scale(0.84,1)" text-anchor="middle" font-size="12.8">P</text>
<text transform="translate(58.9,151.75) scale(0.84,1)" text-anchor="middle" font-size="12.8">1</text>
<text transform="translate(65.2,151.75) scale(0.84,1)" text-anchor="middle" font-size="12.8">4</text>
<polygon points="200.5,101.5 184.2,105.5 200.5,109.5" fill="#fff" stroke="#000" stroke-width="2.1" stroke-linejoin="round"/>
<polygon points="192.35,103.5 184.2,105.5 192.35,107.5" fill="#000" stroke="#000" stroke-width="2.1" stroke-linejoin="round"/>
<rect x="199.8" y="96.5" width="35.2" height="17.8" rx="3" fill="#000"/>
<rect x="201.8" y="98.2" width="30.7" height="14" rx="1.2" fill="#fff"/>
<polygon points="200.5,102.97 200.5,108.03 204.2,108.008 204.2,102.948" fill="#fff"/>
<text transform="translate(210.95,109.8) scale(0.84,1)" text-anchor="middle" font-size="12.8">P</text>
<text transform="translate(219.25,109.8) scale(0.84,1)" text-anchor="middle" font-size="12.8">1</text>
<text transform="translate(225.55,109.8) scale(0.84,1)" text-anchor="middle" font-size="12.8">2</text>
<polygon points="42.4,166.3 58,170.4 42.4,174" fill="#fff" stroke="#000" stroke-width="2.1" stroke-linejoin="round"/>
<polygon points="50.2,168.35 58,170.4 50.2,172.2" fill="#000" stroke="#000" stroke-width="2.1" stroke-linejoin="round"/>
<rect x="7" y="160.8" width="36" height="18.8" rx="3" fill="#000"/>
<rect x="9.3" y="162.8" width="31.2" height="14.5" rx="1.2" fill="#fff"/>
<polygon points="42.4,167.77 42.4,172.53 38.7,172.541 38.7,167.781" fill="#fff"/>
<text transform="translate(18.7,174.65) scale(0.84,1)" text-anchor="middle" font-size="12.8">P</text>
<text transform="translate(27,174.65) scale(0.84,1)" text-anchor="middle" font-size="12.8">1</text>
<text transform="translate(33.3,174.65) scale(0.84,1)" text-anchor="middle" font-size="12.8">9</text>
<polygon points="76.5,191 86.5,184 80.3,194" fill="#fff" stroke="#000" stroke-width="2.1" stroke-linejoin="round"/>
<polygon points="81.5,187.5 86.5,184 83.4,189" fill="#000" stroke="#000" stroke-width="2.1" stroke-linejoin="round"/>
<rect x="45.9" y="190.2" width="35.1" height="18.6" rx="3" fill="#000"/>
<rect x="48.3" y="192" width="30.2" height="14.4" rx="1.2" fill="#fff"/>
<polygon points="77.6538,191.911 79.1462,193.089 75.7954,194.658 74.3029,193.48" fill="#fff"/>
<text transform="translate(57.2,203.8) scale(0.84,1)" text-anchor="middle" font-size="12.8">P</text>
<text transform="translate(65.5,203.8) scale(0.84,1)" text-anchor="middle" font-size="12.8">1</text>
<text transform="translate(71.8,203.8) scale(0.84,1)" text-anchor="middle" font-size="12.8">3</text>
<polygon points="55.2,230.4 62,240.2 52.7,232.9" fill="#fff" stroke="#000" stroke-width="2.1" stroke-linejoin="round"/>
<polygon points="58.6,235.3 62,240.2 57.35,236.55" fill="#000" stroke="#000" stroke-width="2.1" stroke-linejoin="round"/>
<rect x="21.4" y="215" width="34.6" height="18.7" rx="3" fill="#000"/>
<rect x="24" y="217.5" width="29.7" height="14.4" rx="1.2" fill="#fff"/>
<polygon points="54.1606,231.439 53.7394,231.861 50.3119,230.22 50.733,229.799" fill="#fff"/>
<text transform="translate(32.45,229.3) scale(0.84,1)" text-anchor="middle" font-size="12.8">P</text>
<text transform="translate(39.75,229.3) scale(0.84,1)" text-anchor="middle" font-size="12.8">1</text>
<text transform="translate(46.85,229.3) scale(0.84,1)" text-anchor="middle" font-size="12.8">1</text>
<polygon points="61,297.6 69,308.2 57.7,300.8" fill="#fff" stroke="#000" stroke-width="2.1" stroke-linejoin="round"/>
<polygon points="65,302.9 69,308.2 63.35,304.5" fill="#000" stroke="#000" stroke-width="2.1" stroke-linejoin="round"/>
<rect x="27.5" y="282.9" width="34.3" height="18.7" rx="3" fill="#000"/>
<rect x="29.8" y="284.6" width="29.1" height="14.4" rx="1.2" fill="#fff"/>
<polygon points="59.9447,298.623 58.7553,299.777 55.0487,298.024 56.2381,296.871" fill="#fff"/>
<text transform="translate(38.15,296.4) scale(0.84,1)" text-anchor="middle" font-size="12.8">P</text>
<text transform="translate(46.45,296.4) scale(0.84,1)" text-anchor="middle" font-size="12.8">1</text>
<text transform="translate(52.75,296.4) scale(0.84,1)" text-anchor="middle" font-size="12.8">0</text>
<polygon points="53,330 60.6,340.2 49.5,332.8" fill="#fff" stroke="#000" stroke-width="2.1" stroke-linejoin="round"/>
<polygon points="56.8,335.1 60.6,340.2 55.05,336.5" fill="#000" stroke="#000" stroke-width="2.1" stroke-linejoin="round"/>
<rect x="29.4" y="315.6" width="24.4" height="18" rx="3" fill="#000"/>
<rect x="31.6" y="317.8" width="19.3" height="13.6" rx="1.2" fill="#fff"/>
<polygon points="51.8521,330.918 50.6479,331.882 47.2964,329.52 48.5006,328.557" fill="#fff"/>
<text transform="translate(37.35,329.3) scale(0.66,1)" text-anchor="middle" font-size="12.8">P</text>
<text transform="translate(43.85,329.3) scale(0.66,1)" text-anchor="middle" font-size="12.8">7</text>
<polygon points="305,313.6 307.1,330.8 310,313.6" fill="#fff" stroke="#000" stroke-width="1.6" stroke-linejoin="round"/>
<polygon points="306.05,322.2 307.1,330.8 308.55,322.2" fill="#000" stroke="#000" stroke-width="1.6" stroke-linejoin="round"/>
<rect x="295.7" y="296" width="24.9" height="18.6" rx="3" fill="#000"/>
<rect x="297.8" y="297.9" width="20.6" height="14.6" rx="1.2" fill="#fff"/>
<polygon points="306.12,313.6 308.88,313.6 309.145,310.21 306.385,310.21" fill="#fff"/>
<text transform="translate(303.5,309.9) scale(0.66,1)" text-anchor="middle" font-size="12.6">P</text>
<text transform="translate(310.8,309.9) scale(0.66,1)" text-anchor="middle" font-size="12.6">5</text>
<polygon points="353.5,341 342,333.2 349.8,343.6" fill="#fff" stroke="#000" stroke-width="2.1" stroke-linejoin="round"/>
<polygon points="347.75,337.1 342,333.2 345.9,338.4" fill="#000" stroke="#000" stroke-width="2.1" stroke-linejoin="round"/>
<rect x="349" y="340.2" width="24.7" height="18.2" rx="3" fill="#000"/>
<rect x="351.1" y="342.1" width="20.4" height="14.2" rx="1.2" fill="#fff"/>
<polygon points="352.297,341.845 351.003,342.755 353.76,344.744 355.054,343.835" fill="#fff"/>
<text transform="translate(357.8,353.9) scale(0.66,1)" text-anchor="middle" font-size="12.8">P</text>
<text transform="translate(365.5,353.9) scale(0.66,1)" text-anchor="middle" font-size="12.8">6</text>
<polygon points="726,151.8 718.2,162.4 729.5,155" fill="#fff" stroke="#000" stroke-width="1.6" stroke-linejoin="round"/>
<polygon points="722.1,157.1 718.2,162.4 723.85,158.7" fill="#000" stroke="#000" stroke-width="1.6" stroke-linejoin="round"/>
<rect x="725.1" y="137" width="25.8" height="18.7" rx="3" fill="#000"/>
<rect x="727.8" y="139.6" width="20.4" height="14" rx="1.2" fill="#fff"/>
<polygon points="726.827,152.556 728.673,154.244 731.887,152.034 730.04,150.346" fill="#fff"/>
<text transform="translate(734.3,151.3) scale(0.66,1)" text-anchor="middle" font-size="14">P</text>
<text transform="translate(742.7,151.3) scale(0.66,1)" text-anchor="middle" font-size="14">3</text>
<polygon points="732,207 724.2,217.2 735.6,210.3" fill="#fff" stroke="#000" stroke-width="1.6" stroke-linejoin="round"/>
<polygon points="728.1,212.1 724.2,217.2 729.9,213.75" fill="#000" stroke="#000" stroke-width="1.6" stroke-linejoin="round"/>
<rect x="731.2" y="192.5" width="25.8" height="18.5" rx="3" fill="#000"/>
<rect x="733.3" y="194.4" width="21.5" height="14.5" rx="1.2" fill="#fff"/>
<polygon points="732.826,207.757 734.774,209.543 737.599,207.651 735.65,205.865" fill="#fff"/>
<text transform="translate(740.95,206.35) scale(0.66,1)" text-anchor="middle" font-size="13.2">P</text>
<text transform="translate(749.45,206.35) scale(0.66,1)" text-anchor="middle" font-size="13.2">2</text>
<polygon points="732.8,331 724.8,341 736.4,334.3" fill="#fff" stroke="#000" stroke-width="1.6" stroke-linejoin="round"/>
<polygon points="728.8,336 724.8,341 730.6,337.65" fill="#000" stroke="#000" stroke-width="1.6" stroke-linejoin="round"/>
<rect x="732" y="316.5" width="25" height="18.5" rx="3" fill="#000"/>
<rect x="734.1" y="318.4" width="20.7" height="14.5" rx="1.2" fill="#fff"/>
<polygon points="733.626,331.757 735.574,333.543 738.364,331.599 736.415,329.813" fill="#fff"/>
<text transform="translate(740.85,330.35) scale(0.66,1)" text-anchor="middle" font-size="13">P</text>
<text transform="translate(748.25,330.35) scale(0.66,1)" text-anchor="middle" font-size="13">1</text>
<polygon points="629.9,380.6 622.4,390.6 633.5,383.8" fill="#fff" stroke="#000" stroke-width="1.6" stroke-linejoin="round"/>
<polygon points="626.15,385.6 622.4,390.6 627.95,387.2" fill="#000" stroke="#000" stroke-width="1.6" stroke-linejoin="round"/>
<rect x="629" y="366.4" width="25" height="18.1" rx="3" fill="#000"/>
<rect x="631.1" y="368.3" width="20.7" height="14.1" rx="1.2" fill="#fff"/>
<polygon points="630.737,381.344 632.663,383.056 635.463,381.127 633.537,379.415" fill="#fff"/>
<text transform="translate(637.65,380.05) scale(0.66,1)" text-anchor="middle" font-size="12.6">P</text>
<text transform="translate(645.35,380.05) scale(0.66,1)" text-anchor="middle" font-size="12.6">4</text>
</svg>
</body></html>
